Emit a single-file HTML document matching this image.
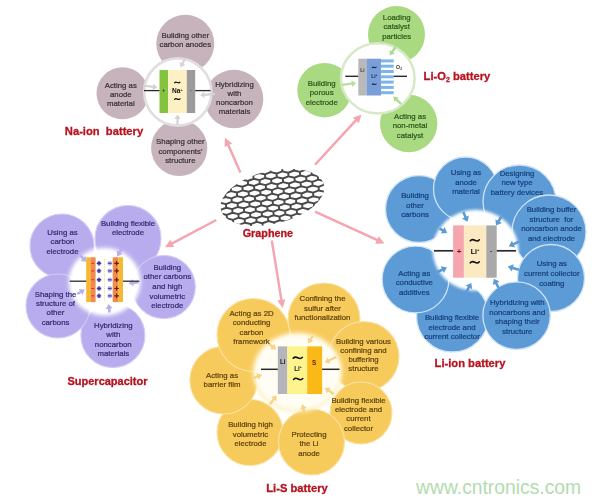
<!DOCTYPE html>
<html><head><meta charset="utf-8"><title>Graphene applications</title>
<style>
html,body{margin:0;padding:0;background:#fff;}
body{width:600px;height:503px;overflow:hidden;font-family:"Liberation Sans", sans-serif;}
svg{display:block;font-family:"Liberation Sans", sans-serif;}
</style></head><body>
<svg width="600" height="503" viewBox="0 0 600 503">
<defs>
<filter id="b1" x="-5%" y="-5%" width="110%" height="110%"><feGaussianBlur stdDeviation="0.55"/></filter>
<filter id="b15" x="-30%" y="-30%" width="160%" height="160%"><feGaussianBlur stdDeviation="1.4"/></filter>
<filter id="b2" x="-30%" y="-30%" width="160%" height="160%"><feGaussianBlur stdDeviation="2"/></filter>
<filter id="b3" x="-30%" y="-30%" width="160%" height="160%"><feGaussianBlur stdDeviation="3"/></filter>
<filter id="b5" x="-30%" y="-30%" width="160%" height="160%"><feGaussianBlur stdDeviation="4.5"/></filter>
<clipPath id="gclip"><ellipse cx="0" cy="0" rx="53" ry="26.5" transform="translate(272.4,197.3) rotate(-13.7)"/></clipPath>
</defs>
<rect width="600" height="503" fill="#ffffff"/>
<g filter="url(#b1)">

<polygon points="241.5,172.1 229.5,144.8 232.1,143.6 225.0,137.8 224.6,147.0 227.2,145.8 239.3,173.1" fill="#f4a5af" opacity="1"/>
<polygon points="315.9,165.6 356.8,121.3 358.9,123.2 361.4,114.4 352.8,117.7 354.9,119.6 314.1,164.0" fill="#f4a5af" opacity="1"/>
<polygon points="314.5,212.7 376.4,241.1 375.2,243.7 384.4,243.4 378.7,236.3 377.5,238.8 315.5,210.5" fill="#f4a5af" opacity="1"/>
<polygon points="270.6,240.7 280.2,300.1 277.3,300.6 282.7,308.0 285.4,299.3 282.6,299.7 273.0,240.3" fill="#f4a5af" opacity="1"/>
<polygon points="215.7,218.9 171.7,242.3 170.3,239.7 165.0,247.2 174.2,247.0 172.8,244.5 216.9,221.1" fill="#f4a5af" opacity="1"/>
<g clip-path="url(#gclip)">
<g transform="translate(272.4,197.3) rotate(-4)">
<path d="M-134.5 -66.6L-134.5 -63.0M-134.5 -63.0L-140.3 -61.2M-140.3 -61.2L-146.1 -63.0M-122.8 -66.6L-122.8 -63.0M-122.8 -63.0L-128.6 -61.2M-128.6 -61.2L-134.5 -63.0M-111.1 -66.6L-111.1 -63.0M-111.1 -63.0L-116.9 -61.2M-116.9 -61.2L-122.8 -63.0M-99.4 -66.6L-99.4 -63.0M-99.4 -63.0L-105.2 -61.2M-105.2 -61.2L-111.1 -63.0M-87.7 -66.6L-87.7 -63.0M-87.7 -63.0L-93.5 -61.2M-93.5 -61.2L-99.4 -63.0M-76.0 -66.6L-76.0 -63.0M-76.0 -63.0L-81.8 -61.2M-81.8 -61.2L-87.7 -63.0M-64.3 -66.6L-64.3 -63.0M-64.3 -63.0L-70.1 -61.2M-70.1 -61.2L-76.0 -63.0M-52.6 -66.6L-52.6 -63.0M-52.6 -63.0L-58.5 -61.2M-58.5 -61.2L-64.3 -63.0M-40.9 -66.6L-40.9 -63.0M-40.9 -63.0L-46.8 -61.2M-46.8 -61.2L-52.6 -63.0M-29.2 -66.6L-29.2 -63.0M-29.2 -63.0L-35.1 -61.2M-35.1 -61.2L-40.9 -63.0M-17.5 -66.6L-17.5 -63.0M-17.5 -63.0L-23.4 -61.2M-23.4 -61.2L-29.2 -63.0M-5.8 -66.6L-5.8 -63.0M-5.8 -63.0L-11.7 -61.2M-11.7 -61.2L-17.5 -63.0M5.8 -66.6L5.8 -63.0M5.8 -63.0L0.0 -61.2M0.0 -61.2L-5.8 -63.0M17.5 -66.6L17.5 -63.0M17.5 -63.0L11.7 -61.2M11.7 -61.2L5.8 -63.0M29.2 -66.6L29.2 -63.0M29.2 -63.0L23.4 -61.2M23.4 -61.2L17.5 -63.0M40.9 -66.6L40.9 -63.0M40.9 -63.0L35.1 -61.2M35.1 -61.2L29.2 -63.0M52.6 -66.6L52.6 -63.0M52.6 -63.0L46.8 -61.2M46.8 -61.2L40.9 -63.0M64.3 -66.6L64.3 -63.0M64.3 -63.0L58.5 -61.2M58.5 -61.2L52.6 -63.0M76.0 -66.6L76.0 -63.0M76.0 -63.0L70.1 -61.2M70.1 -61.2L64.3 -63.0M87.7 -66.6L87.7 -63.0M87.7 -63.0L81.8 -61.2M81.8 -61.2L76.0 -63.0M99.4 -66.6L99.4 -63.0M99.4 -63.0L93.5 -61.2M93.5 -61.2L87.7 -63.0M111.1 -66.6L111.1 -63.0M111.1 -63.0L105.2 -61.2M105.2 -61.2L99.4 -63.0M122.8 -66.6L122.8 -63.0M122.8 -63.0L116.9 -61.2M116.9 -61.2L111.1 -63.0M134.5 -66.6L134.5 -63.0M134.5 -63.0L128.6 -61.2M128.6 -61.2L122.8 -63.0M146.1 -66.6L146.1 -63.0M146.1 -63.0L140.3 -61.2M140.3 -61.2L134.5 -63.0M-128.6 -61.2L-128.6 -57.6M-128.6 -57.6L-134.5 -55.8M-134.5 -55.8L-140.3 -57.6M-116.9 -61.2L-116.9 -57.6M-116.9 -57.6L-122.8 -55.8M-122.8 -55.8L-128.6 -57.6M-105.2 -61.2L-105.2 -57.6M-105.2 -57.6L-111.1 -55.8M-111.1 -55.8L-116.9 -57.6M-93.5 -61.2L-93.5 -57.6M-93.5 -57.6L-99.4 -55.8M-99.4 -55.8L-105.2 -57.6M-81.8 -61.2L-81.8 -57.6M-81.8 -57.6L-87.7 -55.8M-87.7 -55.8L-93.5 -57.6M-70.1 -61.2L-70.1 -57.6M-70.1 -57.6L-76.0 -55.8M-76.0 -55.8L-81.8 -57.6M-58.5 -61.2L-58.5 -57.6M-58.5 -57.6L-64.3 -55.8M-64.3 -55.8L-70.1 -57.6M-46.8 -61.2L-46.8 -57.6M-46.8 -57.6L-52.6 -55.8M-52.6 -55.8L-58.5 -57.6M-35.1 -61.2L-35.1 -57.6M-35.1 -57.6L-40.9 -55.8M-40.9 -55.8L-46.8 -57.6M-23.4 -61.2L-23.4 -57.6M-23.4 -57.6L-29.2 -55.8M-29.2 -55.8L-35.1 -57.6M-11.7 -61.2L-11.7 -57.6M-11.7 -57.6L-17.5 -55.8M-17.5 -55.8L-23.4 -57.6M0.0 -61.2L0.0 -57.6M0.0 -57.6L-5.8 -55.8M-5.8 -55.8L-11.7 -57.6M11.7 -61.2L11.7 -57.6M11.7 -57.6L5.8 -55.8M5.8 -55.8L-0.0 -57.6M23.4 -61.2L23.4 -57.6M23.4 -57.6L17.5 -55.8M17.5 -55.8L11.7 -57.6M35.1 -61.2L35.1 -57.6M35.1 -57.6L29.2 -55.8M29.2 -55.8L23.4 -57.6M46.8 -61.2L46.8 -57.6M46.8 -57.6L40.9 -55.8M40.9 -55.8L35.1 -57.6M58.5 -61.2L58.5 -57.6M58.5 -57.6L52.6 -55.8M52.6 -55.8L46.8 -57.6M70.1 -61.2L70.1 -57.6M70.1 -57.6L64.3 -55.8M64.3 -55.8L58.5 -57.6M81.8 -61.2L81.8 -57.6M81.8 -57.6L76.0 -55.8M76.0 -55.8L70.1 -57.6M93.5 -61.2L93.5 -57.6M93.5 -57.6L87.7 -55.8M87.7 -55.8L81.8 -57.6M105.2 -61.2L105.2 -57.6M105.2 -57.6L99.4 -55.8M99.4 -55.8L93.5 -57.6M116.9 -61.2L116.9 -57.6M116.9 -57.6L111.1 -55.8M111.1 -55.8L105.2 -57.6M128.6 -61.2L128.6 -57.6M128.6 -57.6L122.8 -55.8M122.8 -55.8L116.9 -57.6M140.3 -61.2L140.3 -57.6M140.3 -57.6L134.5 -55.8M134.5 -55.8L128.6 -57.6M152.0 -61.2L152.0 -57.6M152.0 -57.6L146.1 -55.8M146.1 -55.8L140.3 -57.6M-134.5 -55.8L-134.5 -52.2M-134.5 -52.2L-140.3 -50.4M-140.3 -50.4L-146.1 -52.2M-122.8 -55.8L-122.8 -52.2M-122.8 -52.2L-128.6 -50.4M-128.6 -50.4L-134.5 -52.2M-111.1 -55.8L-111.1 -52.2M-111.1 -52.2L-116.9 -50.4M-116.9 -50.4L-122.8 -52.2M-99.4 -55.8L-99.4 -52.2M-99.4 -52.2L-105.2 -50.4M-105.2 -50.4L-111.1 -52.2M-87.7 -55.8L-87.7 -52.2M-87.7 -52.2L-93.5 -50.4M-93.5 -50.4L-99.4 -52.2M-76.0 -55.8L-76.0 -52.2M-76.0 -52.2L-81.8 -50.4M-81.8 -50.4L-87.7 -52.2M-64.3 -55.8L-64.3 -52.2M-64.3 -52.2L-70.1 -50.4M-70.1 -50.4L-76.0 -52.2M-52.6 -55.8L-52.6 -52.2M-52.6 -52.2L-58.5 -50.4M-58.5 -50.4L-64.3 -52.2M-40.9 -55.8L-40.9 -52.2M-40.9 -52.2L-46.8 -50.4M-46.8 -50.4L-52.6 -52.2M-29.2 -55.8L-29.2 -52.2M-29.2 -52.2L-35.1 -50.4M-35.1 -50.4L-40.9 -52.2M-17.5 -55.8L-17.5 -52.2M-17.5 -52.2L-23.4 -50.4M-23.4 -50.4L-29.2 -52.2M-5.8 -55.8L-5.8 -52.2M-5.8 -52.2L-11.7 -50.4M-11.7 -50.4L-17.5 -52.2M5.8 -55.8L5.8 -52.2M5.8 -52.2L0.0 -50.4M0.0 -50.4L-5.8 -52.2M17.5 -55.8L17.5 -52.2M17.5 -52.2L11.7 -50.4M11.7 -50.4L5.8 -52.2M29.2 -55.8L29.2 -52.2M29.2 -52.2L23.4 -50.4M23.4 -50.4L17.5 -52.2M40.9 -55.8L40.9 -52.2M40.9 -52.2L35.1 -50.4M35.1 -50.4L29.2 -52.2M52.6 -55.8L52.6 -52.2M52.6 -52.2L46.8 -50.4M46.8 -50.4L40.9 -52.2M64.3 -55.8L64.3 -52.2M64.3 -52.2L58.5 -50.4M58.5 -50.4L52.6 -52.2M76.0 -55.8L76.0 -52.2M76.0 -52.2L70.1 -50.4M70.1 -50.4L64.3 -52.2M87.7 -55.8L87.7 -52.2M87.7 -52.2L81.8 -50.4M81.8 -50.4L76.0 -52.2M99.4 -55.8L99.4 -52.2M99.4 -52.2L93.5 -50.4M93.5 -50.4L87.7 -52.2M111.1 -55.8L111.1 -52.2M111.1 -52.2L105.2 -50.4M105.2 -50.4L99.4 -52.2M122.8 -55.8L122.8 -52.2M122.8 -52.2L116.9 -50.4M116.9 -50.4L111.1 -52.2M134.5 -55.8L134.5 -52.2M134.5 -52.2L128.6 -50.4M128.6 -50.4L122.8 -52.2M146.1 -55.8L146.1 -52.2M146.1 -52.2L140.3 -50.4M140.3 -50.4L134.5 -52.2M-128.6 -50.4L-128.6 -46.8M-128.6 -46.8L-134.5 -45.0M-134.5 -45.0L-140.3 -46.8M-116.9 -50.4L-116.9 -46.8M-116.9 -46.8L-122.8 -45.0M-122.8 -45.0L-128.6 -46.8M-105.2 -50.4L-105.2 -46.8M-105.2 -46.8L-111.1 -45.0M-111.1 -45.0L-116.9 -46.8M-93.5 -50.4L-93.5 -46.8M-93.5 -46.8L-99.4 -45.0M-99.4 -45.0L-105.2 -46.8M-81.8 -50.4L-81.8 -46.8M-81.8 -46.8L-87.7 -45.0M-87.7 -45.0L-93.5 -46.8M-70.1 -50.4L-70.1 -46.8M-70.1 -46.8L-76.0 -45.0M-76.0 -45.0L-81.8 -46.8M-58.5 -50.4L-58.5 -46.8M-58.5 -46.8L-64.3 -45.0M-64.3 -45.0L-70.1 -46.8M-46.8 -50.4L-46.8 -46.8M-46.8 -46.8L-52.6 -45.0M-52.6 -45.0L-58.5 -46.8M-35.1 -50.4L-35.1 -46.8M-35.1 -46.8L-40.9 -45.0M-40.9 -45.0L-46.8 -46.8M-23.4 -50.4L-23.4 -46.8M-23.4 -46.8L-29.2 -45.0M-29.2 -45.0L-35.1 -46.8M-11.7 -50.4L-11.7 -46.8M-11.7 -46.8L-17.5 -45.0M-17.5 -45.0L-23.4 -46.8M0.0 -50.4L0.0 -46.8M0.0 -46.8L-5.8 -45.0M-5.8 -45.0L-11.7 -46.8M11.7 -50.4L11.7 -46.8M11.7 -46.8L5.8 -45.0M5.8 -45.0L-0.0 -46.8M23.4 -50.4L23.4 -46.8M23.4 -46.8L17.5 -45.0M17.5 -45.0L11.7 -46.8M35.1 -50.4L35.1 -46.8M35.1 -46.8L29.2 -45.0M29.2 -45.0L23.4 -46.8M46.8 -50.4L46.8 -46.8M46.8 -46.8L40.9 -45.0M40.9 -45.0L35.1 -46.8M58.5 -50.4L58.5 -46.8M58.5 -46.8L52.6 -45.0M52.6 -45.0L46.8 -46.8M70.1 -50.4L70.1 -46.8M70.1 -46.8L64.3 -45.0M64.3 -45.0L58.5 -46.8M81.8 -50.4L81.8 -46.8M81.8 -46.8L76.0 -45.0M76.0 -45.0L70.1 -46.8M93.5 -50.4L93.5 -46.8M93.5 -46.8L87.7 -45.0M87.7 -45.0L81.8 -46.8M105.2 -50.4L105.2 -46.8M105.2 -46.8L99.4 -45.0M99.4 -45.0L93.5 -46.8M116.9 -50.4L116.9 -46.8M116.9 -46.8L111.1 -45.0M111.1 -45.0L105.2 -46.8M128.6 -50.4L128.6 -46.8M128.6 -46.8L122.8 -45.0M122.8 -45.0L116.9 -46.8M140.3 -50.4L140.3 -46.8M140.3 -46.8L134.5 -45.0M134.5 -45.0L128.6 -46.8M152.0 -50.4L152.0 -46.8M152.0 -46.8L146.1 -45.0M146.1 -45.0L140.3 -46.8M-134.5 -45.0L-134.5 -41.4M-134.5 -41.4L-140.3 -39.6M-140.3 -39.6L-146.1 -41.4M-122.8 -45.0L-122.8 -41.4M-122.8 -41.4L-128.6 -39.6M-128.6 -39.6L-134.5 -41.4M-111.1 -45.0L-111.1 -41.4M-111.1 -41.4L-116.9 -39.6M-116.9 -39.6L-122.8 -41.4M-99.4 -45.0L-99.4 -41.4M-99.4 -41.4L-105.2 -39.6M-105.2 -39.6L-111.1 -41.4M-87.7 -45.0L-87.7 -41.4M-87.7 -41.4L-93.5 -39.6M-93.5 -39.6L-99.4 -41.4M-76.0 -45.0L-76.0 -41.4M-76.0 -41.4L-81.8 -39.6M-81.8 -39.6L-87.7 -41.4M-64.3 -45.0L-64.3 -41.4M-64.3 -41.4L-70.1 -39.6M-70.1 -39.6L-76.0 -41.4M-52.6 -45.0L-52.6 -41.4M-52.6 -41.4L-58.5 -39.6M-58.5 -39.6L-64.3 -41.4M-40.9 -45.0L-40.9 -41.4M-40.9 -41.4L-46.8 -39.6M-46.8 -39.6L-52.6 -41.4M-29.2 -45.0L-29.2 -41.4M-29.2 -41.4L-35.1 -39.6M-35.1 -39.6L-40.9 -41.4M-17.5 -45.0L-17.5 -41.4M-17.5 -41.4L-23.4 -39.6M-23.4 -39.6L-29.2 -41.4M-5.8 -45.0L-5.8 -41.4M-5.8 -41.4L-11.7 -39.6M-11.7 -39.6L-17.5 -41.4M5.8 -45.0L5.8 -41.4M5.8 -41.4L0.0 -39.6M0.0 -39.6L-5.8 -41.4M17.5 -45.0L17.5 -41.4M17.5 -41.4L11.7 -39.6M11.7 -39.6L5.8 -41.4M29.2 -45.0L29.2 -41.4M29.2 -41.4L23.4 -39.6M23.4 -39.6L17.5 -41.4M40.9 -45.0L40.9 -41.4M40.9 -41.4L35.1 -39.6M35.1 -39.6L29.2 -41.4M52.6 -45.0L52.6 -41.4M52.6 -41.4L46.8 -39.6M46.8 -39.6L40.9 -41.4M64.3 -45.0L64.3 -41.4M64.3 -41.4L58.5 -39.6M58.5 -39.6L52.6 -41.4M76.0 -45.0L76.0 -41.4M76.0 -41.4L70.1 -39.6M70.1 -39.6L64.3 -41.4M87.7 -45.0L87.7 -41.4M87.7 -41.4L81.8 -39.6M81.8 -39.6L76.0 -41.4M99.4 -45.0L99.4 -41.4M99.4 -41.4L93.5 -39.6M93.5 -39.6L87.7 -41.4M111.1 -45.0L111.1 -41.4M111.1 -41.4L105.2 -39.6M105.2 -39.6L99.4 -41.4M122.8 -45.0L122.8 -41.4M122.8 -41.4L116.9 -39.6M116.9 -39.6L111.1 -41.4M134.5 -45.0L134.5 -41.4M134.5 -41.4L128.6 -39.6M128.6 -39.6L122.8 -41.4M146.1 -45.0L146.1 -41.4M146.1 -41.4L140.3 -39.6M140.3 -39.6L134.5 -41.4M-128.6 -39.6L-128.6 -36.0M-128.6 -36.0L-134.5 -34.2M-134.5 -34.2L-140.3 -36.0M-116.9 -39.6L-116.9 -36.0M-116.9 -36.0L-122.8 -34.2M-122.8 -34.2L-128.6 -36.0M-105.2 -39.6L-105.2 -36.0M-105.2 -36.0L-111.1 -34.2M-111.1 -34.2L-116.9 -36.0M-93.5 -39.6L-93.5 -36.0M-93.5 -36.0L-99.4 -34.2M-99.4 -34.2L-105.2 -36.0M-81.8 -39.6L-81.8 -36.0M-81.8 -36.0L-87.7 -34.2M-87.7 -34.2L-93.5 -36.0M-70.1 -39.6L-70.1 -36.0M-70.1 -36.0L-76.0 -34.2M-76.0 -34.2L-81.8 -36.0M-58.5 -39.6L-58.5 -36.0M-58.5 -36.0L-64.3 -34.2M-64.3 -34.2L-70.1 -36.0M-46.8 -39.6L-46.8 -36.0M-46.8 -36.0L-52.6 -34.2M-52.6 -34.2L-58.5 -36.0M-35.1 -39.6L-35.1 -36.0M-35.1 -36.0L-40.9 -34.2M-40.9 -34.2L-46.8 -36.0M-23.4 -39.6L-23.4 -36.0M-23.4 -36.0L-29.2 -34.2M-29.2 -34.2L-35.1 -36.0M-11.7 -39.6L-11.7 -36.0M-11.7 -36.0L-17.5 -34.2M-17.5 -34.2L-23.4 -36.0M0.0 -39.6L0.0 -36.0M0.0 -36.0L-5.8 -34.2M-5.8 -34.2L-11.7 -36.0M11.7 -39.6L11.7 -36.0M11.7 -36.0L5.8 -34.2M5.8 -34.2L-0.0 -36.0M23.4 -39.6L23.4 -36.0M23.4 -36.0L17.5 -34.2M17.5 -34.2L11.7 -36.0M35.1 -39.6L35.1 -36.0M35.1 -36.0L29.2 -34.2M29.2 -34.2L23.4 -36.0M46.8 -39.6L46.8 -36.0M46.8 -36.0L40.9 -34.2M40.9 -34.2L35.1 -36.0M58.5 -39.6L58.5 -36.0M58.5 -36.0L52.6 -34.2M52.6 -34.2L46.8 -36.0M70.1 -39.6L70.1 -36.0M70.1 -36.0L64.3 -34.2M64.3 -34.2L58.5 -36.0M81.8 -39.6L81.8 -36.0M81.8 -36.0L76.0 -34.2M76.0 -34.2L70.1 -36.0M93.5 -39.6L93.5 -36.0M93.5 -36.0L87.7 -34.2M87.7 -34.2L81.8 -36.0M105.2 -39.6L105.2 -36.0M105.2 -36.0L99.4 -34.2M99.4 -34.2L93.5 -36.0M116.9 -39.6L116.9 -36.0M116.9 -36.0L111.1 -34.2M111.1 -34.2L105.2 -36.0M128.6 -39.6L128.6 -36.0M128.6 -36.0L122.8 -34.2M122.8 -34.2L116.9 -36.0M140.3 -39.6L140.3 -36.0M140.3 -36.0L134.5 -34.2M134.5 -34.2L128.6 -36.0M152.0 -39.6L152.0 -36.0M152.0 -36.0L146.1 -34.2M146.1 -34.2L140.3 -36.0M-134.5 -34.2L-134.5 -30.6M-134.5 -30.6L-140.3 -28.8M-140.3 -28.8L-146.1 -30.6M-122.8 -34.2L-122.8 -30.6M-122.8 -30.6L-128.6 -28.8M-128.6 -28.8L-134.5 -30.6M-111.1 -34.2L-111.1 -30.6M-111.1 -30.6L-116.9 -28.8M-116.9 -28.8L-122.8 -30.6M-99.4 -34.2L-99.4 -30.6M-99.4 -30.6L-105.2 -28.8M-105.2 -28.8L-111.1 -30.6M-87.7 -34.2L-87.7 -30.6M-87.7 -30.6L-93.5 -28.8M-93.5 -28.8L-99.4 -30.6M-76.0 -34.2L-76.0 -30.6M-76.0 -30.6L-81.8 -28.8M-81.8 -28.8L-87.7 -30.6M-64.3 -34.2L-64.3 -30.6M-64.3 -30.6L-70.1 -28.8M-70.1 -28.8L-76.0 -30.6M-52.6 -34.2L-52.6 -30.6M-52.6 -30.6L-58.5 -28.8M-58.5 -28.8L-64.3 -30.6M-40.9 -34.2L-40.9 -30.6M-40.9 -30.6L-46.8 -28.8M-46.8 -28.8L-52.6 -30.6M-29.2 -34.2L-29.2 -30.6M-29.2 -30.6L-35.1 -28.8M-35.1 -28.8L-40.9 -30.6M-17.5 -34.2L-17.5 -30.6M-17.5 -30.6L-23.4 -28.8M-23.4 -28.8L-29.2 -30.6M-5.8 -34.2L-5.8 -30.6M-5.8 -30.6L-11.7 -28.8M-11.7 -28.8L-17.5 -30.6M5.8 -34.2L5.8 -30.6M5.8 -30.6L0.0 -28.8M0.0 -28.8L-5.8 -30.6M17.5 -34.2L17.5 -30.6M17.5 -30.6L11.7 -28.8M11.7 -28.8L5.8 -30.6M29.2 -34.2L29.2 -30.6M29.2 -30.6L23.4 -28.8M23.4 -28.8L17.5 -30.6M40.9 -34.2L40.9 -30.6M40.9 -30.6L35.1 -28.8M35.1 -28.8L29.2 -30.6M52.6 -34.2L52.6 -30.6M52.6 -30.6L46.8 -28.8M46.8 -28.8L40.9 -30.6M64.3 -34.2L64.3 -30.6M64.3 -30.6L58.5 -28.8M58.5 -28.8L52.6 -30.6M76.0 -34.2L76.0 -30.6M76.0 -30.6L70.1 -28.8M70.1 -28.8L64.3 -30.6M87.7 -34.2L87.7 -30.6M87.7 -30.6L81.8 -28.8M81.8 -28.8L76.0 -30.6M99.4 -34.2L99.4 -30.6M99.4 -30.6L93.5 -28.8M93.5 -28.8L87.7 -30.6M111.1 -34.2L111.1 -30.6M111.1 -30.6L105.2 -28.8M105.2 -28.8L99.4 -30.6M122.8 -34.2L122.8 -30.6M122.8 -30.6L116.9 -28.8M116.9 -28.8L111.1 -30.6M134.5 -34.2L134.5 -30.6M134.5 -30.6L128.6 -28.8M128.6 -28.8L122.8 -30.6M146.1 -34.2L146.1 -30.6M146.1 -30.6L140.3 -28.8M140.3 -28.8L134.5 -30.6M-128.6 -28.8L-128.6 -25.2M-128.6 -25.2L-134.5 -23.4M-134.5 -23.4L-140.3 -25.2M-116.9 -28.8L-116.9 -25.2M-116.9 -25.2L-122.8 -23.4M-122.8 -23.4L-128.6 -25.2M-105.2 -28.8L-105.2 -25.2M-105.2 -25.2L-111.1 -23.4M-111.1 -23.4L-116.9 -25.2M-93.5 -28.8L-93.5 -25.2M-93.5 -25.2L-99.4 -23.4M-99.4 -23.4L-105.2 -25.2M-81.8 -28.8L-81.8 -25.2M-81.8 -25.2L-87.7 -23.4M-87.7 -23.4L-93.5 -25.2M-70.1 -28.8L-70.1 -25.2M-70.1 -25.2L-76.0 -23.4M-76.0 -23.4L-81.8 -25.2M-58.5 -28.8L-58.5 -25.2M-58.5 -25.2L-64.3 -23.4M-64.3 -23.4L-70.1 -25.2M-46.8 -28.8L-46.8 -25.2M-46.8 -25.2L-52.6 -23.4M-52.6 -23.4L-58.5 -25.2M-35.1 -28.8L-35.1 -25.2M-35.1 -25.2L-40.9 -23.4M-40.9 -23.4L-46.8 -25.2M-23.4 -28.8L-23.4 -25.2M-23.4 -25.2L-29.2 -23.4M-29.2 -23.4L-35.1 -25.2M-11.7 -28.8L-11.7 -25.2M-11.7 -25.2L-17.5 -23.4M-17.5 -23.4L-23.4 -25.2M0.0 -28.8L0.0 -25.2M0.0 -25.2L-5.8 -23.4M-5.8 -23.4L-11.7 -25.2M11.7 -28.8L11.7 -25.2M11.7 -25.2L5.8 -23.4M5.8 -23.4L-0.0 -25.2M23.4 -28.8L23.4 -25.2M23.4 -25.2L17.5 -23.4M17.5 -23.4L11.7 -25.2M35.1 -28.8L35.1 -25.2M35.1 -25.2L29.2 -23.4M29.2 -23.4L23.4 -25.2M46.8 -28.8L46.8 -25.2M46.8 -25.2L40.9 -23.4M40.9 -23.4L35.1 -25.2M58.5 -28.8L58.5 -25.2M58.5 -25.2L52.6 -23.4M52.6 -23.4L46.8 -25.2M70.1 -28.8L70.1 -25.2M70.1 -25.2L64.3 -23.4M64.3 -23.4L58.5 -25.2M81.8 -28.8L81.8 -25.2M81.8 -25.2L76.0 -23.4M76.0 -23.4L70.1 -25.2M93.5 -28.8L93.5 -25.2M93.5 -25.2L87.7 -23.4M87.7 -23.4L81.8 -25.2M105.2 -28.8L105.2 -25.2M105.2 -25.2L99.4 -23.4M99.4 -23.4L93.5 -25.2M116.9 -28.8L116.9 -25.2M116.9 -25.2L111.1 -23.4M111.1 -23.4L105.2 -25.2M128.6 -28.8L128.6 -25.2M128.6 -25.2L122.8 -23.4M122.8 -23.4L116.9 -25.2M140.3 -28.8L140.3 -25.2M140.3 -25.2L134.5 -23.4M134.5 -23.4L128.6 -25.2M152.0 -28.8L152.0 -25.2M152.0 -25.2L146.1 -23.4M146.1 -23.4L140.3 -25.2M-134.5 -23.4L-134.5 -19.8M-134.5 -19.8L-140.3 -18.0M-140.3 -18.0L-146.1 -19.8M-122.8 -23.4L-122.8 -19.8M-122.8 -19.8L-128.6 -18.0M-128.6 -18.0L-134.5 -19.8M-111.1 -23.4L-111.1 -19.8M-111.1 -19.8L-116.9 -18.0M-116.9 -18.0L-122.8 -19.8M-99.4 -23.4L-99.4 -19.8M-99.4 -19.8L-105.2 -18.0M-105.2 -18.0L-111.1 -19.8M-87.7 -23.4L-87.7 -19.8M-87.7 -19.8L-93.5 -18.0M-93.5 -18.0L-99.4 -19.8M-76.0 -23.4L-76.0 -19.8M-76.0 -19.8L-81.8 -18.0M-81.8 -18.0L-87.7 -19.8M-64.3 -23.4L-64.3 -19.8M-64.3 -19.8L-70.1 -18.0M-70.1 -18.0L-76.0 -19.8M-52.6 -23.4L-52.6 -19.8M-52.6 -19.8L-58.5 -18.0M-58.5 -18.0L-64.3 -19.8M-40.9 -23.4L-40.9 -19.8M-40.9 -19.8L-46.8 -18.0M-46.8 -18.0L-52.6 -19.8M-29.2 -23.4L-29.2 -19.8M-29.2 -19.8L-35.1 -18.0M-35.1 -18.0L-40.9 -19.8M-17.5 -23.4L-17.5 -19.8M-17.5 -19.8L-23.4 -18.0M-23.4 -18.0L-29.2 -19.8M-5.8 -23.4L-5.8 -19.8M-5.8 -19.8L-11.7 -18.0M-11.7 -18.0L-17.5 -19.8M5.8 -23.4L5.8 -19.8M5.8 -19.8L0.0 -18.0M0.0 -18.0L-5.8 -19.8M17.5 -23.4L17.5 -19.8M17.5 -19.8L11.7 -18.0M11.7 -18.0L5.8 -19.8M29.2 -23.4L29.2 -19.8M29.2 -19.8L23.4 -18.0M23.4 -18.0L17.5 -19.8M40.9 -23.4L40.9 -19.8M40.9 -19.8L35.1 -18.0M35.1 -18.0L29.2 -19.8M52.6 -23.4L52.6 -19.8M52.6 -19.8L46.8 -18.0M46.8 -18.0L40.9 -19.8M64.3 -23.4L64.3 -19.8M64.3 -19.8L58.5 -18.0M58.5 -18.0L52.6 -19.8M76.0 -23.4L76.0 -19.8M76.0 -19.8L70.1 -18.0M70.1 -18.0L64.3 -19.8M87.7 -23.4L87.7 -19.8M87.7 -19.8L81.8 -18.0M81.8 -18.0L76.0 -19.8M99.4 -23.4L99.4 -19.8M99.4 -19.8L93.5 -18.0M93.5 -18.0L87.7 -19.8M111.1 -23.4L111.1 -19.8M111.1 -19.8L105.2 -18.0M105.2 -18.0L99.4 -19.8M122.8 -23.4L122.8 -19.8M122.8 -19.8L116.9 -18.0M116.9 -18.0L111.1 -19.8M134.5 -23.4L134.5 -19.8M134.5 -19.8L128.6 -18.0M128.6 -18.0L122.8 -19.8M146.1 -23.4L146.1 -19.8M146.1 -19.8L140.3 -18.0M140.3 -18.0L134.5 -19.8M-128.6 -18.0L-128.6 -14.4M-128.6 -14.4L-134.5 -12.6M-134.5 -12.6L-140.3 -14.4M-116.9 -18.0L-116.9 -14.4M-116.9 -14.4L-122.8 -12.6M-122.8 -12.6L-128.6 -14.4M-105.2 -18.0L-105.2 -14.4M-105.2 -14.4L-111.1 -12.6M-111.1 -12.6L-116.9 -14.4M-93.5 -18.0L-93.5 -14.4M-93.5 -14.4L-99.4 -12.6M-99.4 -12.6L-105.2 -14.4M-81.8 -18.0L-81.8 -14.4M-81.8 -14.4L-87.7 -12.6M-87.7 -12.6L-93.5 -14.4M-70.1 -18.0L-70.1 -14.4M-70.1 -14.4L-76.0 -12.6M-76.0 -12.6L-81.8 -14.4M-58.5 -18.0L-58.5 -14.4M-58.5 -14.4L-64.3 -12.6M-64.3 -12.6L-70.1 -14.4M-46.8 -18.0L-46.8 -14.4M-46.8 -14.4L-52.6 -12.6M-52.6 -12.6L-58.5 -14.4M-35.1 -18.0L-35.1 -14.4M-35.1 -14.4L-40.9 -12.6M-40.9 -12.6L-46.8 -14.4M-23.4 -18.0L-23.4 -14.4M-23.4 -14.4L-29.2 -12.6M-29.2 -12.6L-35.1 -14.4M-11.7 -18.0L-11.7 -14.4M-11.7 -14.4L-17.5 -12.6M-17.5 -12.6L-23.4 -14.4M0.0 -18.0L0.0 -14.4M0.0 -14.4L-5.8 -12.6M-5.8 -12.6L-11.7 -14.4M11.7 -18.0L11.7 -14.4M11.7 -14.4L5.8 -12.6M5.8 -12.6L-0.0 -14.4M23.4 -18.0L23.4 -14.4M23.4 -14.4L17.5 -12.6M17.5 -12.6L11.7 -14.4M35.1 -18.0L35.1 -14.4M35.1 -14.4L29.2 -12.6M29.2 -12.6L23.4 -14.4M46.8 -18.0L46.8 -14.4M46.8 -14.4L40.9 -12.6M40.9 -12.6L35.1 -14.4M58.5 -18.0L58.5 -14.4M58.5 -14.4L52.6 -12.6M52.6 -12.6L46.8 -14.4M70.1 -18.0L70.1 -14.4M70.1 -14.4L64.3 -12.6M64.3 -12.6L58.5 -14.4M81.8 -18.0L81.8 -14.4M81.8 -14.4L76.0 -12.6M76.0 -12.6L70.1 -14.4M93.5 -18.0L93.5 -14.4M93.5 -14.4L87.7 -12.6M87.7 -12.6L81.8 -14.4M105.2 -18.0L105.2 -14.4M105.2 -14.4L99.4 -12.6M99.4 -12.6L93.5 -14.4M116.9 -18.0L116.9 -14.4M116.9 -14.4L111.1 -12.6M111.1 -12.6L105.2 -14.4M128.6 -18.0L128.6 -14.4M128.6 -14.4L122.8 -12.6M122.8 -12.6L116.9 -14.4M140.3 -18.0L140.3 -14.4M140.3 -14.4L134.5 -12.6M134.5 -12.6L128.6 -14.4M152.0 -18.0L152.0 -14.4M152.0 -14.4L146.1 -12.6M146.1 -12.6L140.3 -14.4M-134.5 -12.6L-134.5 -9.0M-134.5 -9.0L-140.3 -7.2M-140.3 -7.2L-146.1 -9.0M-122.8 -12.6L-122.8 -9.0M-122.8 -9.0L-128.6 -7.2M-128.6 -7.2L-134.5 -9.0M-111.1 -12.6L-111.1 -9.0M-111.1 -9.0L-116.9 -7.2M-116.9 -7.2L-122.8 -9.0M-99.4 -12.6L-99.4 -9.0M-99.4 -9.0L-105.2 -7.2M-105.2 -7.2L-111.1 -9.0M-87.7 -12.6L-87.7 -9.0M-87.7 -9.0L-93.5 -7.2M-93.5 -7.2L-99.4 -9.0M-76.0 -12.6L-76.0 -9.0M-76.0 -9.0L-81.8 -7.2M-81.8 -7.2L-87.7 -9.0M-64.3 -12.6L-64.3 -9.0M-64.3 -9.0L-70.1 -7.2M-70.1 -7.2L-76.0 -9.0M-52.6 -12.6L-52.6 -9.0M-52.6 -9.0L-58.5 -7.2M-58.5 -7.2L-64.3 -9.0M-40.9 -12.6L-40.9 -9.0M-40.9 -9.0L-46.8 -7.2M-46.8 -7.2L-52.6 -9.0M-29.2 -12.6L-29.2 -9.0M-29.2 -9.0L-35.1 -7.2M-35.1 -7.2L-40.9 -9.0M-17.5 -12.6L-17.5 -9.0M-17.5 -9.0L-23.4 -7.2M-23.4 -7.2L-29.2 -9.0M-5.8 -12.6L-5.8 -9.0M-5.8 -9.0L-11.7 -7.2M-11.7 -7.2L-17.5 -9.0M5.8 -12.6L5.8 -9.0M5.8 -9.0L0.0 -7.2M0.0 -7.2L-5.8 -9.0M17.5 -12.6L17.5 -9.0M17.5 -9.0L11.7 -7.2M11.7 -7.2L5.8 -9.0M29.2 -12.6L29.2 -9.0M29.2 -9.0L23.4 -7.2M23.4 -7.2L17.5 -9.0M40.9 -12.6L40.9 -9.0M40.9 -9.0L35.1 -7.2M35.1 -7.2L29.2 -9.0M52.6 -12.6L52.6 -9.0M52.6 -9.0L46.8 -7.2M46.8 -7.2L40.9 -9.0M64.3 -12.6L64.3 -9.0M64.3 -9.0L58.5 -7.2M58.5 -7.2L52.6 -9.0M76.0 -12.6L76.0 -9.0M76.0 -9.0L70.1 -7.2M70.1 -7.2L64.3 -9.0M87.7 -12.6L87.7 -9.0M87.7 -9.0L81.8 -7.2M81.8 -7.2L76.0 -9.0M99.4 -12.6L99.4 -9.0M99.4 -9.0L93.5 -7.2M93.5 -7.2L87.7 -9.0M111.1 -12.6L111.1 -9.0M111.1 -9.0L105.2 -7.2M105.2 -7.2L99.4 -9.0M122.8 -12.6L122.8 -9.0M122.8 -9.0L116.9 -7.2M116.9 -7.2L111.1 -9.0M134.5 -12.6L134.5 -9.0M134.5 -9.0L128.6 -7.2M128.6 -7.2L122.8 -9.0M146.1 -12.6L146.1 -9.0M146.1 -9.0L140.3 -7.2M140.3 -7.2L134.5 -9.0M-128.6 -7.2L-128.6 -3.6M-128.6 -3.6L-134.5 -1.8M-134.5 -1.8L-140.3 -3.6M-116.9 -7.2L-116.9 -3.6M-116.9 -3.6L-122.8 -1.8M-122.8 -1.8L-128.6 -3.6M-105.2 -7.2L-105.2 -3.6M-105.2 -3.6L-111.1 -1.8M-111.1 -1.8L-116.9 -3.6M-93.5 -7.2L-93.5 -3.6M-93.5 -3.6L-99.4 -1.8M-99.4 -1.8L-105.2 -3.6M-81.8 -7.2L-81.8 -3.6M-81.8 -3.6L-87.7 -1.8M-87.7 -1.8L-93.5 -3.6M-70.1 -7.2L-70.1 -3.6M-70.1 -3.6L-76.0 -1.8M-76.0 -1.8L-81.8 -3.6M-58.5 -7.2L-58.5 -3.6M-58.5 -3.6L-64.3 -1.8M-64.3 -1.8L-70.1 -3.6M-46.8 -7.2L-46.8 -3.6M-46.8 -3.6L-52.6 -1.8M-52.6 -1.8L-58.5 -3.6M-35.1 -7.2L-35.1 -3.6M-35.1 -3.6L-40.9 -1.8M-40.9 -1.8L-46.8 -3.6M-23.4 -7.2L-23.4 -3.6M-23.4 -3.6L-29.2 -1.8M-29.2 -1.8L-35.1 -3.6M-11.7 -7.2L-11.7 -3.6M-11.7 -3.6L-17.5 -1.8M-17.5 -1.8L-23.4 -3.6M0.0 -7.2L0.0 -3.6M0.0 -3.6L-5.8 -1.8M-5.8 -1.8L-11.7 -3.6M11.7 -7.2L11.7 -3.6M11.7 -3.6L5.8 -1.8M5.8 -1.8L-0.0 -3.6M23.4 -7.2L23.4 -3.6M23.4 -3.6L17.5 -1.8M17.5 -1.8L11.7 -3.6M35.1 -7.2L35.1 -3.6M35.1 -3.6L29.2 -1.8M29.2 -1.8L23.4 -3.6M46.8 -7.2L46.8 -3.6M46.8 -3.6L40.9 -1.8M40.9 -1.8L35.1 -3.6M58.5 -7.2L58.5 -3.6M58.5 -3.6L52.6 -1.8M52.6 -1.8L46.8 -3.6M70.1 -7.2L70.1 -3.6M70.1 -3.6L64.3 -1.8M64.3 -1.8L58.5 -3.6M81.8 -7.2L81.8 -3.6M81.8 -3.6L76.0 -1.8M76.0 -1.8L70.1 -3.6M93.5 -7.2L93.5 -3.6M93.5 -3.6L87.7 -1.8M87.7 -1.8L81.8 -3.6M105.2 -7.2L105.2 -3.6M105.2 -3.6L99.4 -1.8M99.4 -1.8L93.5 -3.6M116.9 -7.2L116.9 -3.6M116.9 -3.6L111.1 -1.8M111.1 -1.8L105.2 -3.6M128.6 -7.2L128.6 -3.6M128.6 -3.6L122.8 -1.8M122.8 -1.8L116.9 -3.6M140.3 -7.2L140.3 -3.6M140.3 -3.6L134.5 -1.8M134.5 -1.8L128.6 -3.6M152.0 -7.2L152.0 -3.6M152.0 -3.6L146.1 -1.8M146.1 -1.8L140.3 -3.6M-134.5 -1.8L-134.5 1.8M-134.5 1.8L-140.3 3.6M-140.3 3.6L-146.1 1.8M-122.8 -1.8L-122.8 1.8M-122.8 1.8L-128.6 3.6M-128.6 3.6L-134.5 1.8M-111.1 -1.8L-111.1 1.8M-111.1 1.8L-116.9 3.6M-116.9 3.6L-122.8 1.8M-99.4 -1.8L-99.4 1.8M-99.4 1.8L-105.2 3.6M-105.2 3.6L-111.1 1.8M-87.7 -1.8L-87.7 1.8M-87.7 1.8L-93.5 3.6M-93.5 3.6L-99.4 1.8M-76.0 -1.8L-76.0 1.8M-76.0 1.8L-81.8 3.6M-81.8 3.6L-87.7 1.8M-64.3 -1.8L-64.3 1.8M-64.3 1.8L-70.1 3.6M-70.1 3.6L-76.0 1.8M-52.6 -1.8L-52.6 1.8M-52.6 1.8L-58.5 3.6M-58.5 3.6L-64.3 1.8M-40.9 -1.8L-40.9 1.8M-40.9 1.8L-46.8 3.6M-46.8 3.6L-52.6 1.8M-29.2 -1.8L-29.2 1.8M-29.2 1.8L-35.1 3.6M-35.1 3.6L-40.9 1.8M-17.5 -1.8L-17.5 1.8M-17.5 1.8L-23.4 3.6M-23.4 3.6L-29.2 1.8M-5.8 -1.8L-5.8 1.8M-5.8 1.8L-11.7 3.6M-11.7 3.6L-17.5 1.8M5.8 -1.8L5.8 1.8M5.8 1.8L0.0 3.6M0.0 3.6L-5.8 1.8M17.5 -1.8L17.5 1.8M17.5 1.8L11.7 3.6M11.7 3.6L5.8 1.8M29.2 -1.8L29.2 1.8M29.2 1.8L23.4 3.6M23.4 3.6L17.5 1.8M40.9 -1.8L40.9 1.8M40.9 1.8L35.1 3.6M35.1 3.6L29.2 1.8M52.6 -1.8L52.6 1.8M52.6 1.8L46.8 3.6M46.8 3.6L40.9 1.8M64.3 -1.8L64.3 1.8M64.3 1.8L58.5 3.6M58.5 3.6L52.6 1.8M76.0 -1.8L76.0 1.8M76.0 1.8L70.1 3.6M70.1 3.6L64.3 1.8M87.7 -1.8L87.7 1.8M87.7 1.8L81.8 3.6M81.8 3.6L76.0 1.8M99.4 -1.8L99.4 1.8M99.4 1.8L93.5 3.6M93.5 3.6L87.7 1.8M111.1 -1.8L111.1 1.8M111.1 1.8L105.2 3.6M105.2 3.6L99.4 1.8M122.8 -1.8L122.8 1.8M122.8 1.8L116.9 3.6M116.9 3.6L111.1 1.8M134.5 -1.8L134.5 1.8M134.5 1.8L128.6 3.6M128.6 3.6L122.8 1.8M146.1 -1.8L146.1 1.8M146.1 1.8L140.3 3.6M140.3 3.6L134.5 1.8M-128.6 3.6L-128.6 7.2M-128.6 7.2L-134.5 9.0M-134.5 9.0L-140.3 7.2M-116.9 3.6L-116.9 7.2M-116.9 7.2L-122.8 9.0M-122.8 9.0L-128.6 7.2M-105.2 3.6L-105.2 7.2M-105.2 7.2L-111.1 9.0M-111.1 9.0L-116.9 7.2M-93.5 3.6L-93.5 7.2M-93.5 7.2L-99.4 9.0M-99.4 9.0L-105.2 7.2M-81.8 3.6L-81.8 7.2M-81.8 7.2L-87.7 9.0M-87.7 9.0L-93.5 7.2M-70.1 3.6L-70.1 7.2M-70.1 7.2L-76.0 9.0M-76.0 9.0L-81.8 7.2M-58.5 3.6L-58.5 7.2M-58.5 7.2L-64.3 9.0M-64.3 9.0L-70.1 7.2M-46.8 3.6L-46.8 7.2M-46.8 7.2L-52.6 9.0M-52.6 9.0L-58.5 7.2M-35.1 3.6L-35.1 7.2M-35.1 7.2L-40.9 9.0M-40.9 9.0L-46.8 7.2M-23.4 3.6L-23.4 7.2M-23.4 7.2L-29.2 9.0M-29.2 9.0L-35.1 7.2M-11.7 3.6L-11.7 7.2M-11.7 7.2L-17.5 9.0M-17.5 9.0L-23.4 7.2M0.0 3.6L0.0 7.2M0.0 7.2L-5.8 9.0M-5.8 9.0L-11.7 7.2M11.7 3.6L11.7 7.2M11.7 7.2L5.8 9.0M5.8 9.0L-0.0 7.2M23.4 3.6L23.4 7.2M23.4 7.2L17.5 9.0M17.5 9.0L11.7 7.2M35.1 3.6L35.1 7.2M35.1 7.2L29.2 9.0M29.2 9.0L23.4 7.2M46.8 3.6L46.8 7.2M46.8 7.2L40.9 9.0M40.9 9.0L35.1 7.2M58.5 3.6L58.5 7.2M58.5 7.2L52.6 9.0M52.6 9.0L46.8 7.2M70.1 3.6L70.1 7.2M70.1 7.2L64.3 9.0M64.3 9.0L58.5 7.2M81.8 3.6L81.8 7.2M81.8 7.2L76.0 9.0M76.0 9.0L70.1 7.2M93.5 3.6L93.5 7.2M93.5 7.2L87.7 9.0M87.7 9.0L81.8 7.2M105.2 3.6L105.2 7.2M105.2 7.2L99.4 9.0M99.4 9.0L93.5 7.2M116.9 3.6L116.9 7.2M116.9 7.2L111.1 9.0M111.1 9.0L105.2 7.2M128.6 3.6L128.6 7.2M128.6 7.2L122.8 9.0M122.8 9.0L116.9 7.2M140.3 3.6L140.3 7.2M140.3 7.2L134.5 9.0M134.5 9.0L128.6 7.2M152.0 3.6L152.0 7.2M152.0 7.2L146.1 9.0M146.1 9.0L140.3 7.2M-134.5 9.0L-134.5 12.6M-134.5 12.6L-140.3 14.4M-140.3 14.4L-146.1 12.6M-122.8 9.0L-122.8 12.6M-122.8 12.6L-128.6 14.4M-128.6 14.4L-134.5 12.6M-111.1 9.0L-111.1 12.6M-111.1 12.6L-116.9 14.4M-116.9 14.4L-122.8 12.6M-99.4 9.0L-99.4 12.6M-99.4 12.6L-105.2 14.4M-105.2 14.4L-111.1 12.6M-87.7 9.0L-87.7 12.6M-87.7 12.6L-93.5 14.4M-93.5 14.4L-99.4 12.6M-76.0 9.0L-76.0 12.6M-76.0 12.6L-81.8 14.4M-81.8 14.4L-87.7 12.6M-64.3 9.0L-64.3 12.6M-64.3 12.6L-70.1 14.4M-70.1 14.4L-76.0 12.6M-52.6 9.0L-52.6 12.6M-52.6 12.6L-58.5 14.4M-58.5 14.4L-64.3 12.6M-40.9 9.0L-40.9 12.6M-40.9 12.6L-46.8 14.4M-46.8 14.4L-52.6 12.6M-29.2 9.0L-29.2 12.6M-29.2 12.6L-35.1 14.4M-35.1 14.4L-40.9 12.6M-17.5 9.0L-17.5 12.6M-17.5 12.6L-23.4 14.4M-23.4 14.4L-29.2 12.6M-5.8 9.0L-5.8 12.6M-5.8 12.6L-11.7 14.4M-11.7 14.4L-17.5 12.6M5.8 9.0L5.8 12.6M5.8 12.6L0.0 14.4M0.0 14.4L-5.8 12.6M17.5 9.0L17.5 12.6M17.5 12.6L11.7 14.4M11.7 14.4L5.8 12.6M29.2 9.0L29.2 12.6M29.2 12.6L23.4 14.4M23.4 14.4L17.5 12.6M40.9 9.0L40.9 12.6M40.9 12.6L35.1 14.4M35.1 14.4L29.2 12.6M52.6 9.0L52.6 12.6M52.6 12.6L46.8 14.4M46.8 14.4L40.9 12.6M64.3 9.0L64.3 12.6M64.3 12.6L58.5 14.4M58.5 14.4L52.6 12.6M76.0 9.0L76.0 12.6M76.0 12.6L70.1 14.4M70.1 14.4L64.3 12.6M87.7 9.0L87.7 12.6M87.7 12.6L81.8 14.4M81.8 14.4L76.0 12.6M99.4 9.0L99.4 12.6M99.4 12.6L93.5 14.4M93.5 14.4L87.7 12.6M111.1 9.0L111.1 12.6M111.1 12.6L105.2 14.4M105.2 14.4L99.4 12.6M122.8 9.0L122.8 12.6M122.8 12.6L116.9 14.4M116.9 14.4L111.1 12.6M134.5 9.0L134.5 12.6M134.5 12.6L128.6 14.4M128.6 14.4L122.8 12.6M146.1 9.0L146.1 12.6M146.1 12.6L140.3 14.4M140.3 14.4L134.5 12.6M-128.6 14.4L-128.6 18.0M-128.6 18.0L-134.5 19.8M-134.5 19.8L-140.3 18.0M-116.9 14.4L-116.9 18.0M-116.9 18.0L-122.8 19.8M-122.8 19.8L-128.6 18.0M-105.2 14.4L-105.2 18.0M-105.2 18.0L-111.1 19.8M-111.1 19.8L-116.9 18.0M-93.5 14.4L-93.5 18.0M-93.5 18.0L-99.4 19.8M-99.4 19.8L-105.2 18.0M-81.8 14.4L-81.8 18.0M-81.8 18.0L-87.7 19.8M-87.7 19.8L-93.5 18.0M-70.1 14.4L-70.1 18.0M-70.1 18.0L-76.0 19.8M-76.0 19.8L-81.8 18.0M-58.5 14.4L-58.5 18.0M-58.5 18.0L-64.3 19.8M-64.3 19.8L-70.1 18.0M-46.8 14.4L-46.8 18.0M-46.8 18.0L-52.6 19.8M-52.6 19.8L-58.5 18.0M-35.1 14.4L-35.1 18.0M-35.1 18.0L-40.9 19.8M-40.9 19.8L-46.8 18.0M-23.4 14.4L-23.4 18.0M-23.4 18.0L-29.2 19.8M-29.2 19.8L-35.1 18.0M-11.7 14.4L-11.7 18.0M-11.7 18.0L-17.5 19.8M-17.5 19.8L-23.4 18.0M0.0 14.4L0.0 18.0M0.0 18.0L-5.8 19.8M-5.8 19.8L-11.7 18.0M11.7 14.4L11.7 18.0M11.7 18.0L5.8 19.8M5.8 19.8L-0.0 18.0M23.4 14.4L23.4 18.0M23.4 18.0L17.5 19.8M17.5 19.8L11.7 18.0M35.1 14.4L35.1 18.0M35.1 18.0L29.2 19.8M29.2 19.8L23.4 18.0M46.8 14.4L46.8 18.0M46.8 18.0L40.9 19.8M40.9 19.8L35.1 18.0M58.5 14.4L58.5 18.0M58.5 18.0L52.6 19.8M52.6 19.8L46.8 18.0M70.1 14.4L70.1 18.0M70.1 18.0L64.3 19.8M64.3 19.8L58.5 18.0M81.8 14.4L81.8 18.0M81.8 18.0L76.0 19.8M76.0 19.8L70.1 18.0M93.5 14.4L93.5 18.0M93.5 18.0L87.7 19.8M87.7 19.8L81.8 18.0M105.2 14.4L105.2 18.0M105.2 18.0L99.4 19.8M99.4 19.8L93.5 18.0M116.9 14.4L116.9 18.0M116.9 18.0L111.1 19.8M111.1 19.8L105.2 18.0M128.6 14.4L128.6 18.0M128.6 18.0L122.8 19.8M122.8 19.8L116.9 18.0M140.3 14.4L140.3 18.0M140.3 18.0L134.5 19.8M134.5 19.8L128.6 18.0M152.0 14.4L152.0 18.0M152.0 18.0L146.1 19.8M146.1 19.8L140.3 18.0M-134.5 19.8L-134.5 23.4M-134.5 23.4L-140.3 25.2M-140.3 25.2L-146.1 23.4M-122.8 19.8L-122.8 23.4M-122.8 23.4L-128.6 25.2M-128.6 25.2L-134.5 23.4M-111.1 19.8L-111.1 23.4M-111.1 23.4L-116.9 25.2M-116.9 25.2L-122.8 23.4M-99.4 19.8L-99.4 23.4M-99.4 23.4L-105.2 25.2M-105.2 25.2L-111.1 23.4M-87.7 19.8L-87.7 23.4M-87.7 23.4L-93.5 25.2M-93.5 25.2L-99.4 23.4M-76.0 19.8L-76.0 23.4M-76.0 23.4L-81.8 25.2M-81.8 25.2L-87.7 23.4M-64.3 19.8L-64.3 23.4M-64.3 23.4L-70.1 25.2M-70.1 25.2L-76.0 23.4M-52.6 19.8L-52.6 23.4M-52.6 23.4L-58.5 25.2M-58.5 25.2L-64.3 23.4M-40.9 19.8L-40.9 23.4M-40.9 23.4L-46.8 25.2M-46.8 25.2L-52.6 23.4M-29.2 19.8L-29.2 23.4M-29.2 23.4L-35.1 25.2M-35.1 25.2L-40.9 23.4M-17.5 19.8L-17.5 23.4M-17.5 23.4L-23.4 25.2M-23.4 25.2L-29.2 23.4M-5.8 19.8L-5.8 23.4M-5.8 23.4L-11.7 25.2M-11.7 25.2L-17.5 23.4M5.8 19.8L5.8 23.4M5.8 23.4L0.0 25.2M0.0 25.2L-5.8 23.4M17.5 19.8L17.5 23.4M17.5 23.4L11.7 25.2M11.7 25.2L5.8 23.4M29.2 19.8L29.2 23.4M29.2 23.4L23.4 25.2M23.4 25.2L17.5 23.4M40.9 19.8L40.9 23.4M40.9 23.4L35.1 25.2M35.1 25.2L29.2 23.4M52.6 19.8L52.6 23.4M52.6 23.4L46.8 25.2M46.8 25.2L40.9 23.4M64.3 19.8L64.3 23.4M64.3 23.4L58.5 25.2M58.5 25.2L52.6 23.4M76.0 19.8L76.0 23.4M76.0 23.4L70.1 25.2M70.1 25.2L64.3 23.4M87.7 19.8L87.7 23.4M87.7 23.4L81.8 25.2M81.8 25.2L76.0 23.4M99.4 19.8L99.4 23.4M99.4 23.4L93.5 25.2M93.5 25.2L87.7 23.4M111.1 19.8L111.1 23.4M111.1 23.4L105.2 25.2M105.2 25.2L99.4 23.4M122.8 19.8L122.8 23.4M122.8 23.4L116.9 25.2M116.9 25.2L111.1 23.4M134.5 19.8L134.5 23.4M134.5 23.4L128.6 25.2M128.6 25.2L122.8 23.4M146.1 19.8L146.1 23.4M146.1 23.4L140.3 25.2M140.3 25.2L134.5 23.4M-128.6 25.2L-128.6 28.8M-128.6 28.8L-134.5 30.6M-134.5 30.6L-140.3 28.8M-116.9 25.2L-116.9 28.8M-116.9 28.8L-122.8 30.6M-122.8 30.6L-128.6 28.8M-105.2 25.2L-105.2 28.8M-105.2 28.8L-111.1 30.6M-111.1 30.6L-116.9 28.8M-93.5 25.2L-93.5 28.8M-93.5 28.8L-99.4 30.6M-99.4 30.6L-105.2 28.8M-81.8 25.2L-81.8 28.8M-81.8 28.8L-87.7 30.6M-87.7 30.6L-93.5 28.8M-70.1 25.2L-70.1 28.8M-70.1 28.8L-76.0 30.6M-76.0 30.6L-81.8 28.8M-58.5 25.2L-58.5 28.8M-58.5 28.8L-64.3 30.6M-64.3 30.6L-70.1 28.8M-46.8 25.2L-46.8 28.8M-46.8 28.8L-52.6 30.6M-52.6 30.6L-58.5 28.8M-35.1 25.2L-35.1 28.8M-35.1 28.8L-40.9 30.6M-40.9 30.6L-46.8 28.8M-23.4 25.2L-23.4 28.8M-23.4 28.8L-29.2 30.6M-29.2 30.6L-35.1 28.8M-11.7 25.2L-11.7 28.8M-11.7 28.8L-17.5 30.6M-17.5 30.6L-23.4 28.8M0.0 25.2L0.0 28.8M0.0 28.8L-5.8 30.6M-5.8 30.6L-11.7 28.8M11.7 25.2L11.7 28.8M11.7 28.8L5.8 30.6M5.8 30.6L-0.0 28.8M23.4 25.2L23.4 28.8M23.4 28.8L17.5 30.6M17.5 30.6L11.7 28.8M35.1 25.2L35.1 28.8M35.1 28.8L29.2 30.6M29.2 30.6L23.4 28.8M46.8 25.2L46.8 28.8M46.8 28.8L40.9 30.6M40.9 30.6L35.1 28.8M58.5 25.2L58.5 28.8M58.5 28.8L52.6 30.6M52.6 30.6L46.8 28.8M70.1 25.2L70.1 28.8M70.1 28.8L64.3 30.6M64.3 30.6L58.5 28.8M81.8 25.2L81.8 28.8M81.8 28.8L76.0 30.6M76.0 30.6L70.1 28.8M93.5 25.2L93.5 28.8M93.5 28.8L87.7 30.6M87.7 30.6L81.8 28.8M105.2 25.2L105.2 28.8M105.2 28.8L99.4 30.6M99.4 30.6L93.5 28.8M116.9 25.2L116.9 28.8M116.9 28.8L111.1 30.6M111.1 30.6L105.2 28.8M128.6 25.2L128.6 28.8M128.6 28.8L122.8 30.6M122.8 30.6L116.9 28.8M140.3 25.2L140.3 28.8M140.3 28.8L134.5 30.6M134.5 30.6L128.6 28.8M152.0 25.2L152.0 28.8M152.0 28.8L146.1 30.6M146.1 30.6L140.3 28.8M-134.5 30.6L-134.5 34.2M-134.5 34.2L-140.3 36.0M-140.3 36.0L-146.1 34.2M-122.8 30.6L-122.8 34.2M-122.8 34.2L-128.6 36.0M-128.6 36.0L-134.5 34.2M-111.1 30.6L-111.1 34.2M-111.1 34.2L-116.9 36.0M-116.9 36.0L-122.8 34.2M-99.4 30.6L-99.4 34.2M-99.4 34.2L-105.2 36.0M-105.2 36.0L-111.1 34.2M-87.7 30.6L-87.7 34.2M-87.7 34.2L-93.5 36.0M-93.5 36.0L-99.4 34.2M-76.0 30.6L-76.0 34.2M-76.0 34.2L-81.8 36.0M-81.8 36.0L-87.7 34.2M-64.3 30.6L-64.3 34.2M-64.3 34.2L-70.1 36.0M-70.1 36.0L-76.0 34.2M-52.6 30.6L-52.6 34.2M-52.6 34.2L-58.5 36.0M-58.5 36.0L-64.3 34.2M-40.9 30.6L-40.9 34.2M-40.9 34.2L-46.8 36.0M-46.8 36.0L-52.6 34.2M-29.2 30.6L-29.2 34.2M-29.2 34.2L-35.1 36.0M-35.1 36.0L-40.9 34.2M-17.5 30.6L-17.5 34.2M-17.5 34.2L-23.4 36.0M-23.4 36.0L-29.2 34.2M-5.8 30.6L-5.8 34.2M-5.8 34.2L-11.7 36.0M-11.7 36.0L-17.5 34.2M5.8 30.6L5.8 34.2M5.8 34.2L0.0 36.0M0.0 36.0L-5.8 34.2M17.5 30.6L17.5 34.2M17.5 34.2L11.7 36.0M11.7 36.0L5.8 34.2M29.2 30.6L29.2 34.2M29.2 34.2L23.4 36.0M23.4 36.0L17.5 34.2M40.9 30.6L40.9 34.2M40.9 34.2L35.1 36.0M35.1 36.0L29.2 34.2M52.6 30.6L52.6 34.2M52.6 34.2L46.8 36.0M46.8 36.0L40.9 34.2M64.3 30.6L64.3 34.2M64.3 34.2L58.5 36.0M58.5 36.0L52.6 34.2M76.0 30.6L76.0 34.2M76.0 34.2L70.1 36.0M70.1 36.0L64.3 34.2M87.7 30.6L87.7 34.2M87.7 34.2L81.8 36.0M81.8 36.0L76.0 34.2M99.4 30.6L99.4 34.2M99.4 34.2L93.5 36.0M93.5 36.0L87.7 34.2M111.1 30.6L111.1 34.2M111.1 34.2L105.2 36.0M105.2 36.0L99.4 34.2M122.8 30.6L122.8 34.2M122.8 34.2L116.9 36.0M116.9 36.0L111.1 34.2M134.5 30.6L134.5 34.2M134.5 34.2L128.6 36.0M128.6 36.0L122.8 34.2M146.1 30.6L146.1 34.2M146.1 34.2L140.3 36.0M140.3 36.0L134.5 34.2M-128.6 36.0L-128.6 39.6M-128.6 39.6L-134.5 41.4M-134.5 41.4L-140.3 39.6M-116.9 36.0L-116.9 39.6M-116.9 39.6L-122.8 41.4M-122.8 41.4L-128.6 39.6M-105.2 36.0L-105.2 39.6M-105.2 39.6L-111.1 41.4M-111.1 41.4L-116.9 39.6M-93.5 36.0L-93.5 39.6M-93.5 39.6L-99.4 41.4M-99.4 41.4L-105.2 39.6M-81.8 36.0L-81.8 39.6M-81.8 39.6L-87.7 41.4M-87.7 41.4L-93.5 39.6M-70.1 36.0L-70.1 39.6M-70.1 39.6L-76.0 41.4M-76.0 41.4L-81.8 39.6M-58.5 36.0L-58.5 39.6M-58.5 39.6L-64.3 41.4M-64.3 41.4L-70.1 39.6M-46.8 36.0L-46.8 39.6M-46.8 39.6L-52.6 41.4M-52.6 41.4L-58.5 39.6M-35.1 36.0L-35.1 39.6M-35.1 39.6L-40.9 41.4M-40.9 41.4L-46.8 39.6M-23.4 36.0L-23.4 39.6M-23.4 39.6L-29.2 41.4M-29.2 41.4L-35.1 39.6M-11.7 36.0L-11.7 39.6M-11.7 39.6L-17.5 41.4M-17.5 41.4L-23.4 39.6M0.0 36.0L0.0 39.6M0.0 39.6L-5.8 41.4M-5.8 41.4L-11.7 39.6M11.7 36.0L11.7 39.6M11.7 39.6L5.8 41.4M5.8 41.4L-0.0 39.6M23.4 36.0L23.4 39.6M23.4 39.6L17.5 41.4M17.5 41.4L11.7 39.6M35.1 36.0L35.1 39.6M35.1 39.6L29.2 41.4M29.2 41.4L23.4 39.6M46.8 36.0L46.8 39.6M46.8 39.6L40.9 41.4M40.9 41.4L35.1 39.6M58.5 36.0L58.5 39.6M58.5 39.6L52.6 41.4M52.6 41.4L46.8 39.6M70.1 36.0L70.1 39.6M70.1 39.6L64.3 41.4M64.3 41.4L58.5 39.6M81.8 36.0L81.8 39.6M81.8 39.6L76.0 41.4M76.0 41.4L70.1 39.6M93.5 36.0L93.5 39.6M93.5 39.6L87.7 41.4M87.7 41.4L81.8 39.6M105.2 36.0L105.2 39.6M105.2 39.6L99.4 41.4M99.4 41.4L93.5 39.6M116.9 36.0L116.9 39.6M116.9 39.6L111.1 41.4M111.1 41.4L105.2 39.6M128.6 36.0L128.6 39.6M128.6 39.6L122.8 41.4M122.8 41.4L116.9 39.6M140.3 36.0L140.3 39.6M140.3 39.6L134.5 41.4M134.5 41.4L128.6 39.6M152.0 36.0L152.0 39.6M152.0 39.6L146.1 41.4M146.1 41.4L140.3 39.6M-134.5 41.4L-134.5 45.0M-134.5 45.0L-140.3 46.8M-140.3 46.8L-146.1 45.0M-122.8 41.4L-122.8 45.0M-122.8 45.0L-128.6 46.8M-128.6 46.8L-134.5 45.0M-111.1 41.4L-111.1 45.0M-111.1 45.0L-116.9 46.8M-116.9 46.8L-122.8 45.0M-99.4 41.4L-99.4 45.0M-99.4 45.0L-105.2 46.8M-105.2 46.8L-111.1 45.0M-87.7 41.4L-87.7 45.0M-87.7 45.0L-93.5 46.8M-93.5 46.8L-99.4 45.0M-76.0 41.4L-76.0 45.0M-76.0 45.0L-81.8 46.8M-81.8 46.8L-87.7 45.0M-64.3 41.4L-64.3 45.0M-64.3 45.0L-70.1 46.8M-70.1 46.8L-76.0 45.0M-52.6 41.4L-52.6 45.0M-52.6 45.0L-58.5 46.8M-58.5 46.8L-64.3 45.0M-40.9 41.4L-40.9 45.0M-40.9 45.0L-46.8 46.8M-46.8 46.8L-52.6 45.0M-29.2 41.4L-29.2 45.0M-29.2 45.0L-35.1 46.8M-35.1 46.8L-40.9 45.0M-17.5 41.4L-17.5 45.0M-17.5 45.0L-23.4 46.8M-23.4 46.8L-29.2 45.0M-5.8 41.4L-5.8 45.0M-5.8 45.0L-11.7 46.8M-11.7 46.8L-17.5 45.0M5.8 41.4L5.8 45.0M5.8 45.0L0.0 46.8M0.0 46.8L-5.8 45.0M17.5 41.4L17.5 45.0M17.5 45.0L11.7 46.8M11.7 46.8L5.8 45.0M29.2 41.4L29.2 45.0M29.2 45.0L23.4 46.8M23.4 46.8L17.5 45.0M40.9 41.4L40.9 45.0M40.9 45.0L35.1 46.8M35.1 46.8L29.2 45.0M52.6 41.4L52.6 45.0M52.6 45.0L46.8 46.8M46.8 46.8L40.9 45.0M64.3 41.4L64.3 45.0M64.3 45.0L58.5 46.8M58.5 46.8L52.6 45.0M76.0 41.4L76.0 45.0M76.0 45.0L70.1 46.8M70.1 46.8L64.3 45.0M87.7 41.4L87.7 45.0M87.7 45.0L81.8 46.8M81.8 46.8L76.0 45.0M99.4 41.4L99.4 45.0M99.4 45.0L93.5 46.8M93.5 46.8L87.7 45.0M111.1 41.4L111.1 45.0M111.1 45.0L105.2 46.8M105.2 46.8L99.4 45.0M122.8 41.4L122.8 45.0M122.8 45.0L116.9 46.8M116.9 46.8L111.1 45.0M134.5 41.4L134.5 45.0M134.5 45.0L128.6 46.8M128.6 46.8L122.8 45.0M146.1 41.4L146.1 45.0M146.1 45.0L140.3 46.8M140.3 46.8L134.5 45.0M-128.6 46.8L-128.6 50.4M-128.6 50.4L-134.5 52.2M-134.5 52.2L-140.3 50.4M-116.9 46.8L-116.9 50.4M-116.9 50.4L-122.8 52.2M-122.8 52.2L-128.6 50.4M-105.2 46.8L-105.2 50.4M-105.2 50.4L-111.1 52.2M-111.1 52.2L-116.9 50.4M-93.5 46.8L-93.5 50.4M-93.5 50.4L-99.4 52.2M-99.4 52.2L-105.2 50.4M-81.8 46.8L-81.8 50.4M-81.8 50.4L-87.7 52.2M-87.7 52.2L-93.5 50.4M-70.1 46.8L-70.1 50.4M-70.1 50.4L-76.0 52.2M-76.0 52.2L-81.8 50.4M-58.5 46.8L-58.5 50.4M-58.5 50.4L-64.3 52.2M-64.3 52.2L-70.1 50.4M-46.8 46.8L-46.8 50.4M-46.8 50.4L-52.6 52.2M-52.6 52.2L-58.5 50.4M-35.1 46.8L-35.1 50.4M-35.1 50.4L-40.9 52.2M-40.9 52.2L-46.8 50.4M-23.4 46.8L-23.4 50.4M-23.4 50.4L-29.2 52.2M-29.2 52.2L-35.1 50.4M-11.7 46.8L-11.7 50.4M-11.7 50.4L-17.5 52.2M-17.5 52.2L-23.4 50.4M0.0 46.8L0.0 50.4M0.0 50.4L-5.8 52.2M-5.8 52.2L-11.7 50.4M11.7 46.8L11.7 50.4M11.7 50.4L5.8 52.2M5.8 52.2L-0.0 50.4M23.4 46.8L23.4 50.4M23.4 50.4L17.5 52.2M17.5 52.2L11.7 50.4M35.1 46.8L35.1 50.4M35.1 50.4L29.2 52.2M29.2 52.2L23.4 50.4M46.8 46.8L46.8 50.4M46.8 50.4L40.9 52.2M40.9 52.2L35.1 50.4M58.5 46.8L58.5 50.4M58.5 50.4L52.6 52.2M52.6 52.2L46.8 50.4M70.1 46.8L70.1 50.4M70.1 50.4L64.3 52.2M64.3 52.2L58.5 50.4M81.8 46.8L81.8 50.4M81.8 50.4L76.0 52.2M76.0 52.2L70.1 50.4M93.5 46.8L93.5 50.4M93.5 50.4L87.7 52.2M87.7 52.2L81.8 50.4M105.2 46.8L105.2 50.4M105.2 50.4L99.4 52.2M99.4 52.2L93.5 50.4M116.9 46.8L116.9 50.4M116.9 50.4L111.1 52.2M111.1 52.2L105.2 50.4M128.6 46.8L128.6 50.4M128.6 50.4L122.8 52.2M122.8 52.2L116.9 50.4M140.3 46.8L140.3 50.4M140.3 50.4L134.5 52.2M134.5 52.2L128.6 50.4M152.0 46.8L152.0 50.4M152.0 50.4L146.1 52.2M146.1 52.2L140.3 50.4M-134.5 52.2L-134.5 55.8M-134.5 55.8L-140.3 57.6M-140.3 57.6L-146.1 55.8M-122.8 52.2L-122.8 55.8M-122.8 55.8L-128.6 57.6M-128.6 57.6L-134.5 55.8M-111.1 52.2L-111.1 55.8M-111.1 55.8L-116.9 57.6M-116.9 57.6L-122.8 55.8M-99.4 52.2L-99.4 55.8M-99.4 55.8L-105.2 57.6M-105.2 57.6L-111.1 55.8M-87.7 52.2L-87.7 55.8M-87.7 55.8L-93.5 57.6M-93.5 57.6L-99.4 55.8M-76.0 52.2L-76.0 55.8M-76.0 55.8L-81.8 57.6M-81.8 57.6L-87.7 55.8M-64.3 52.2L-64.3 55.8M-64.3 55.8L-70.1 57.6M-70.1 57.6L-76.0 55.8M-52.6 52.2L-52.6 55.8M-52.6 55.8L-58.5 57.6M-58.5 57.6L-64.3 55.8M-40.9 52.2L-40.9 55.8M-40.9 55.8L-46.8 57.6M-46.8 57.6L-52.6 55.8M-29.2 52.2L-29.2 55.8M-29.2 55.8L-35.1 57.6M-35.1 57.6L-40.9 55.8M-17.5 52.2L-17.5 55.8M-17.5 55.8L-23.4 57.6M-23.4 57.6L-29.2 55.8M-5.8 52.2L-5.8 55.8M-5.8 55.8L-11.7 57.6M-11.7 57.6L-17.5 55.8M5.8 52.2L5.8 55.8M5.8 55.8L0.0 57.6M0.0 57.6L-5.8 55.8M17.5 52.2L17.5 55.8M17.5 55.8L11.7 57.6M11.7 57.6L5.8 55.8M29.2 52.2L29.2 55.8M29.2 55.8L23.4 57.6M23.4 57.6L17.5 55.8M40.9 52.2L40.9 55.8M40.9 55.8L35.1 57.6M35.1 57.6L29.2 55.8M52.6 52.2L52.6 55.8M52.6 55.8L46.8 57.6M46.8 57.6L40.9 55.8M64.3 52.2L64.3 55.8M64.3 55.8L58.5 57.6M58.5 57.6L52.6 55.8M76.0 52.2L76.0 55.8M76.0 55.8L70.1 57.6M70.1 57.6L64.3 55.8M87.7 52.2L87.7 55.8M87.7 55.8L81.8 57.6M81.8 57.6L76.0 55.8M99.4 52.2L99.4 55.8M99.4 55.8L93.5 57.6M93.5 57.6L87.7 55.8M111.1 52.2L111.1 55.8M111.1 55.8L105.2 57.6M105.2 57.6L99.4 55.8M122.8 52.2L122.8 55.8M122.8 55.8L116.9 57.6M116.9 57.6L111.1 55.8M134.5 52.2L134.5 55.8M134.5 55.8L128.6 57.6M128.6 57.6L122.8 55.8M146.1 52.2L146.1 55.8M146.1 55.8L140.3 57.6M140.3 57.6L134.5 55.8M-128.6 57.6L-128.6 61.2M-128.6 61.2L-134.5 63.0M-134.5 63.0L-140.3 61.2M-116.9 57.6L-116.9 61.2M-116.9 61.2L-122.8 63.0M-122.8 63.0L-128.6 61.2M-105.2 57.6L-105.2 61.2M-105.2 61.2L-111.1 63.0M-111.1 63.0L-116.9 61.2M-93.5 57.6L-93.5 61.2M-93.5 61.2L-99.4 63.0M-99.4 63.0L-105.2 61.2M-81.8 57.6L-81.8 61.2M-81.8 61.2L-87.7 63.0M-87.7 63.0L-93.5 61.2M-70.1 57.6L-70.1 61.2M-70.1 61.2L-76.0 63.0M-76.0 63.0L-81.8 61.2M-58.5 57.6L-58.5 61.2M-58.5 61.2L-64.3 63.0M-64.3 63.0L-70.1 61.2M-46.8 57.6L-46.8 61.2M-46.8 61.2L-52.6 63.0M-52.6 63.0L-58.5 61.2M-35.1 57.6L-35.1 61.2M-35.1 61.2L-40.9 63.0M-40.9 63.0L-46.8 61.2M-23.4 57.6L-23.4 61.2M-23.4 61.2L-29.2 63.0M-29.2 63.0L-35.1 61.2M-11.7 57.6L-11.7 61.2M-11.7 61.2L-17.5 63.0M-17.5 63.0L-23.4 61.2M0.0 57.6L0.0 61.2M0.0 61.2L-5.8 63.0M-5.8 63.0L-11.7 61.2M11.7 57.6L11.7 61.2M11.7 61.2L5.8 63.0M5.8 63.0L-0.0 61.2M23.4 57.6L23.4 61.2M23.4 61.2L17.5 63.0M17.5 63.0L11.7 61.2M35.1 57.6L35.1 61.2M35.1 61.2L29.2 63.0M29.2 63.0L23.4 61.2M46.8 57.6L46.8 61.2M46.8 61.2L40.9 63.0M40.9 63.0L35.1 61.2M58.5 57.6L58.5 61.2M58.5 61.2L52.6 63.0M52.6 63.0L46.8 61.2M70.1 57.6L70.1 61.2M70.1 61.2L64.3 63.0M64.3 63.0L58.5 61.2M81.8 57.6L81.8 61.2M81.8 61.2L76.0 63.0M76.0 63.0L70.1 61.2M93.5 57.6L93.5 61.2M93.5 61.2L87.7 63.0M87.7 63.0L81.8 61.2M105.2 57.6L105.2 61.2M105.2 61.2L99.4 63.0M99.4 63.0L93.5 61.2M116.9 57.6L116.9 61.2M116.9 61.2L111.1 63.0M111.1 63.0L105.2 61.2M128.6 57.6L128.6 61.2M128.6 61.2L122.8 63.0M122.8 63.0L116.9 61.2M140.3 57.6L140.3 61.2M140.3 61.2L134.5 63.0M134.5 63.0L128.6 61.2M152.0 57.6L152.0 61.2M152.0 61.2L146.1 63.0M146.1 63.0L140.3 61.2M-134.5 63.0L-134.5 66.6M-134.5 66.6L-140.3 68.4M-140.3 68.4L-146.1 66.6M-122.8 63.0L-122.8 66.6M-122.8 66.6L-128.6 68.4M-128.6 68.4L-134.5 66.6M-111.1 63.0L-111.1 66.6M-111.1 66.6L-116.9 68.4M-116.9 68.4L-122.8 66.6M-99.4 63.0L-99.4 66.6M-99.4 66.6L-105.2 68.4M-105.2 68.4L-111.1 66.6M-87.7 63.0L-87.7 66.6M-87.7 66.6L-93.5 68.4M-93.5 68.4L-99.4 66.6M-76.0 63.0L-76.0 66.6M-76.0 66.6L-81.8 68.4M-81.8 68.4L-87.7 66.6M-64.3 63.0L-64.3 66.6M-64.3 66.6L-70.1 68.4M-70.1 68.4L-76.0 66.6M-52.6 63.0L-52.6 66.6M-52.6 66.6L-58.5 68.4M-58.5 68.4L-64.3 66.6M-40.9 63.0L-40.9 66.6M-40.9 66.6L-46.8 68.4M-46.8 68.4L-52.6 66.6M-29.2 63.0L-29.2 66.6M-29.2 66.6L-35.1 68.4M-35.1 68.4L-40.9 66.6M-17.5 63.0L-17.5 66.6M-17.5 66.6L-23.4 68.4M-23.4 68.4L-29.2 66.6M-5.8 63.0L-5.8 66.6M-5.8 66.6L-11.7 68.4M-11.7 68.4L-17.5 66.6M5.8 63.0L5.8 66.6M5.8 66.6L0.0 68.4M0.0 68.4L-5.8 66.6M17.5 63.0L17.5 66.6M17.5 66.6L11.7 68.4M11.7 68.4L5.8 66.6M29.2 63.0L29.2 66.6M29.2 66.6L23.4 68.4M23.4 68.4L17.5 66.6M40.9 63.0L40.9 66.6M40.9 66.6L35.1 68.4M35.1 68.4L29.2 66.6M52.6 63.0L52.6 66.6M52.6 66.6L46.8 68.4M46.8 68.4L40.9 66.6M64.3 63.0L64.3 66.6M64.3 66.6L58.5 68.4M58.5 68.4L52.6 66.6M76.0 63.0L76.0 66.6M76.0 66.6L70.1 68.4M70.1 68.4L64.3 66.6M87.7 63.0L87.7 66.6M87.7 66.6L81.8 68.4M81.8 68.4L76.0 66.6M99.4 63.0L99.4 66.6M99.4 66.6L93.5 68.4M93.5 68.4L87.7 66.6M111.1 63.0L111.1 66.6M111.1 66.6L105.2 68.4M105.2 68.4L99.4 66.6M122.8 63.0L122.8 66.6M122.8 66.6L116.9 68.4M116.9 68.4L111.1 66.6M134.5 63.0L134.5 66.6M134.5 66.6L128.6 68.4M128.6 68.4L122.8 66.6M146.1 63.0L146.1 66.6M146.1 66.6L140.3 68.4M140.3 68.4L134.5 66.6" stroke="#484848" stroke-width="1.95" fill="none" stroke-linecap="round"/>
</g></g>
<text x="267.9" y="237.1" text-anchor="middle" font-size="10.8" font-weight="bold" fill="#b5131f" stroke="#b5131f" stroke-width="0.3">Graphene</text>
<circle cx="185.3" cy="43.7" r="29" fill="#c6b3bb"/>
<circle cx="122.5" cy="93.3" r="26" fill="#c6b3bb"/>
<circle cx="234" cy="99" r="29.3" fill="#c6b3bb"/>
<circle cx="179.2" cy="148" r="28.1" fill="#c6b3bb"/>
<circle cx="177.8" cy="92" r="33.6" fill="#ffffff" stroke="#e2dee0" stroke-width="2.6"/>
<polygon points="184.0,58.0 181.5,63.0 179.7,62.1 180.5,67.5 185.3,64.9 183.5,64.0 186.0,59.0" fill="#d5d3d6" opacity="1"/>
<polygon points="142.8,86.6 152.9,88.0 152.6,90.0 157.5,87.5 153.5,83.8 153.2,85.8 143.2,84.4" fill="#d5d3d6" opacity="1"/>
<polygon points="214.9,92.7 204.4,93.7 204.2,91.6 200.0,95.2 204.8,97.9 204.6,95.9 215.1,94.9" fill="#d5d3d6" opacity="1"/>
<polygon points="178.6,125.0 178.6,119.0 180.7,119.0 177.5,114.5 174.3,119.0 176.4,119.0 176.4,125.0" fill="#d5d3d6" opacity="1"/>
<rect x="159.5" y="70" width="8.7" height="43" fill="#84c341"/>
<rect x="168.2" y="70" width="18.6" height="43" fill="#fdf1c4"/>
<rect x="186.8" y="70" width="8.4" height="43" fill="#9b9b9b"/>
<line x1="144" y1="90.6" x2="159.5" y2="90.6" stroke="#2a2a2a" stroke-width="1.3"/>
<line x1="195.2" y1="90.6" x2="210.5" y2="90.6" stroke="#2a2a2a" stroke-width="1.3"/>
<text x="163.8" y="92.4" text-anchor="middle" font-size="5" font-weight="bold" fill="#1d3a0c">+</text>
<text x="191" y="92" text-anchor="middle" font-size="5" font-weight="bold" fill="#333">-</text>
<path d="M174.6 82.8 c0.6 -0.8 1.7 -0.8 2.7 -0.3 s2.1 0.5 2.7 -0.3" stroke="#111" stroke-width="1.20" fill="none" stroke-linecap="round"/>
<path d="M174.6 99.4 c0.6 -0.8 1.7 -0.8 2.7 -0.3 s2.1 0.5 2.7 -0.3" stroke="#111" stroke-width="1.20" fill="none" stroke-linecap="round"/>
<text x="177.3" y="93" text-anchor="middle" font-size="6.6" font-weight="bold" fill="#111">Na<tspan font-size="3.8" dy="-2.5">+</tspan></text>
<text x="185.3" y="38.0" text-anchor="middle" font-size="7.8" font-weight="normal" fill="#3a3236" stroke="#3a3236" stroke-width="0.22" opacity="1">Building other</text>
<text x="185.3" y="47.3" text-anchor="middle" font-size="7.8" font-weight="normal" fill="#3a3236" stroke="#3a3236" stroke-width="0.22" opacity="1">carbon anodes</text>
<text x="120.8" y="87.6" text-anchor="middle" font-size="7.8" font-weight="normal" fill="#3a3236" stroke="#3a3236" stroke-width="0.22" opacity="1">Acting as</text>
<text x="120.8" y="96.9" text-anchor="middle" font-size="7.8" font-weight="normal" fill="#3a3236" stroke="#3a3236" stroke-width="0.22" opacity="1">anode</text>
<text x="120.8" y="106.2" text-anchor="middle" font-size="7.8" font-weight="normal" fill="#3a3236" stroke="#3a3236" stroke-width="0.22" opacity="1">material</text>
<text x="234.5" y="86.5" text-anchor="middle" font-size="7.8" font-weight="normal" fill="#3a3236" stroke="#3a3236" stroke-width="0.22" opacity="1">Hybridizing</text>
<text x="234.5" y="95.8" text-anchor="middle" font-size="7.8" font-weight="normal" fill="#3a3236" stroke="#3a3236" stroke-width="0.22" opacity="1">with</text>
<text x="234.5" y="105.1" text-anchor="middle" font-size="7.8" font-weight="normal" fill="#3a3236" stroke="#3a3236" stroke-width="0.22" opacity="1">noncarbon</text>
<text x="234.5" y="114.4" text-anchor="middle" font-size="7.8" font-weight="normal" fill="#3a3236" stroke="#3a3236" stroke-width="0.22" opacity="1">materials</text>
<text x="180.4" y="144.4" text-anchor="middle" font-size="7.8" font-weight="normal" fill="#3a3236" stroke="#3a3236" stroke-width="0.22" opacity="1">Shaping other</text>
<text x="180.4" y="153.7" text-anchor="middle" font-size="7.8" font-weight="normal" fill="#3a3236" stroke="#3a3236" stroke-width="0.22" opacity="1">components'</text>
<text x="180.4" y="163.0" text-anchor="middle" font-size="7.8" font-weight="normal" fill="#3a3236" stroke="#3a3236" stroke-width="0.22" opacity="1">structure</text>
<text x="104" y="135" text-anchor="middle" font-size="11.2" font-weight="bold" fill="#b5131f" stroke="#b5131f" stroke-width="0.3">Na-ion&#160; battery</text>
<circle cx="396.5" cy="34.5" r="28.5" fill="#a9d981"/>
<circle cx="324.5" cy="90.2" r="27.2" fill="#a9d981"/>
<circle cx="408.7" cy="123.5" r="28.7" fill="#a9d981"/>
<ellipse cx="377.8" cy="78.3" rx="36.8" ry="35.1" fill="#ffffff" stroke="#d6eac5" stroke-width="2.5"/>
<polygon points="394.5,46.3 391.3,51.1 389.6,50.0 389.8,55.5 395.0,53.6 393.3,52.4 396.5,47.7" fill="#b0d992" opacity="1"/>
<polygon points="341.9,86.1 351.9,84.8 352.1,86.9 356.2,83.1 351.3,80.4 351.6,82.5 341.7,83.7" fill="#b9de9e" opacity="1"/>
<polygon points="401.8,102.9 397.3,98.8 398.7,97.3 393.2,96.6 394.3,102.0 395.7,100.5 400.2,104.7" fill="#b0d992" opacity="1"/>
<rect x="358.3" y="58.7" width="8.4" height="36.8" fill="#b9b9b9"/>
<rect x="366.6" y="58.7" width="14.4" height="36.8" fill="#7a9fd8"/>
<rect x="380.9" y="59.4" width="12.8" height="3.0" fill="#7db5ea"/>
<rect x="380.9" y="64.7" width="12.8" height="3.0" fill="#7db5ea"/>
<rect x="380.9" y="70.0" width="12.8" height="3.0" fill="#7db5ea"/>
<rect x="380.9" y="75.3" width="12.8" height="3.0" fill="#7db5ea"/>
<rect x="380.9" y="80.6" width="12.8" height="3.0" fill="#7db5ea"/>
<rect x="380.9" y="85.9" width="12.8" height="3.0" fill="#7db5ea"/>
<rect x="380.9" y="91.2" width="12.8" height="3.0" fill="#7db5ea"/>
<line x1="345.3" y1="76.3" x2="358.3" y2="76.3" stroke="#2a2a2a" stroke-width="1.4"/>
<line x1="393.7" y1="76.3" x2="407" y2="76.3" stroke="#2a2a2a" stroke-width="1.4"/>
<text x="362.5" y="72.3" text-anchor="middle" font-size="4.8" font-weight="bold" fill="#333">Li</text>
<text x="374.3" y="77.8" text-anchor="middle" font-size="4.8" font-weight="bold" fill="#14224a">Li<tspan font-size="3" dy="-1.7">+</tspan></text>
<path d="M372.2 67.6 c0.5 -0.6 1.3 -0.6 2.0 -0.2 s1.5 0.4 2.0 -0.2" stroke="#14224a" stroke-width="1.10" fill="none" stroke-linecap="round"/>
<path d="M372.2 84.4 c0.5 -0.6 1.3 -0.6 2.0 -0.2 s1.5 0.4 2.0 -0.2" stroke="#14224a" stroke-width="1.10" fill="none" stroke-linecap="round"/>
<text x="399" y="69.2" text-anchor="middle" font-size="5.2" font-weight="bold" fill="#333">O<tspan font-size="3.2" dy="1.2">2</tspan></text>
<text x="396.7" y="19.6" text-anchor="middle" font-size="7.8" font-weight="normal" fill="#2c571b" stroke="#2c571b" stroke-width="0.22" opacity="1">Loading</text>
<text x="396.7" y="29.1" text-anchor="middle" font-size="7.8" font-weight="normal" fill="#2c571b" stroke="#2c571b" stroke-width="0.22" opacity="1">catalyst</text>
<text x="396.7" y="38.6" text-anchor="middle" font-size="7.8" font-weight="normal" fill="#2c571b" stroke="#2c571b" stroke-width="0.22" opacity="1">particles</text>
<text x="321.7" y="85.9" text-anchor="middle" font-size="7.8" font-weight="normal" fill="#2c571b" stroke="#2c571b" stroke-width="0.22" opacity="1">Building</text>
<text x="321.7" y="95.2" text-anchor="middle" font-size="7.8" font-weight="normal" fill="#2c571b" stroke="#2c571b" stroke-width="0.22" opacity="1">porous</text>
<text x="321.7" y="104.5" text-anchor="middle" font-size="7.8" font-weight="normal" fill="#2c571b" stroke="#2c571b" stroke-width="0.22" opacity="1">electrode</text>
<text x="410.0" y="118.5" text-anchor="middle" font-size="7.8" font-weight="normal" fill="#2c571b" stroke="#2c571b" stroke-width="0.22" opacity="1">Acting as</text>
<text x="410.0" y="128.0" text-anchor="middle" font-size="7.8" font-weight="normal" fill="#2c571b" stroke="#2c571b" stroke-width="0.22" opacity="1">non-metal</text>
<text x="410.0" y="137.5" text-anchor="middle" font-size="7.8" font-weight="normal" fill="#2c571b" stroke="#2c571b" stroke-width="0.22" opacity="1">catalyst</text>
<text x="423.6" y="80" font-size="11.2" font-weight="bold" fill="#b5131f" stroke="#b5131f" stroke-width="0.3">Li-O<tspan font-size="7" dy="2.4">2</tspan><tspan dy="-2.4"> battery</tspan></text>
<circle cx="419" cy="209" r="33.5" fill="#5b9bd5" stroke="#cfe2f6" stroke-width="1.3"/>
<circle cx="465.5" cy="189" r="32" fill="#5b9bd5" stroke="#cfe2f6" stroke-width="1.3"/>
<circle cx="519.5" cy="201.5" r="36.5" fill="#5b9bd5" stroke="#cfe2f6" stroke-width="1.3"/>
<circle cx="549" cy="232" r="37" fill="#5b9bd5" stroke="#cfe2f6" stroke-width="1.3"/>
<circle cx="551" cy="278" r="33.5" fill="#5b9bd5" stroke="#cfe2f6" stroke-width="1.3"/>
<circle cx="452.5" cy="316" r="36" fill="#5b9bd5" stroke="#cfe2f6" stroke-width="1.3"/>
<circle cx="415.5" cy="279.5" r="33.4" fill="#5b9bd5" stroke="#cfe2f6" stroke-width="1.3"/>
<circle cx="516.6" cy="315.6" r="33.7" fill="#5b9bd5" stroke="#cfe2f6" stroke-width="1.3"/>
<ellipse cx="475.6" cy="250.3" rx="43" ry="40.5" fill="#ffffff" filter="url(#b15)"/>
<polygon points="438.8,229.6 442.1,231.5 440.8,233.6 447.2,233.0 444.6,227.1 443.4,229.3 440.2,227.4" fill="#5b9bd5" opacity="1"/>
<polygon points="462.1,212.5 464.3,217.5 462.0,218.5 467.5,221.8 468.9,215.5 466.6,216.5 464.5,211.5" fill="#5b9bd5" opacity="1"/>
<polygon points="500.2,215.9 497.5,220.5 495.4,219.2 496.0,225.6 501.9,223.0 499.8,221.8 502.4,217.3" fill="#5b9bd5" opacity="1"/>
<polygon points="518.5,240.4 513.0,242.9 512.0,240.6 508.8,246.2 515.1,247.5 514.1,245.2 519.5,242.8" fill="#5b9bd5" opacity="1"/>
<polygon points="519.4,268.5 513.2,266.7 513.8,264.3 507.8,266.5 511.8,271.5 512.4,269.2 518.6,270.9" fill="#5b9bd5" opacity="1"/>
<polygon points="499.8,287.4 497.4,282.8 499.5,281.6 493.8,278.8 492.9,285.1 495.1,284.0 497.6,288.6" fill="#5b9bd5" opacity="1"/>
<polygon points="467.1,293.2 470.0,288.1 472.1,289.3 471.4,282.9 465.6,285.6 467.7,286.8 464.9,292.0" fill="#5b9bd5" opacity="1"/>
<polygon points="437.9,273.3 442.9,270.9 443.9,273.1 447.0,267.5 440.7,266.3 441.7,268.6 436.7,270.9" fill="#5b9bd5" opacity="1"/>
<rect x="453.1" y="225.4" width="10.8" height="52.3" fill="#f6a6ae"/>
<rect x="463.9" y="225.4" width="22.4" height="52.3" fill="#fbe9c2"/>
<rect x="486.3" y="225.4" width="10.4" height="52.3" fill="#a9a9a9"/>
<line x1="434" y1="250.8" x2="453.1" y2="250.8" stroke="#2a2a2a" stroke-width="1.7"/>
<line x1="496.7" y1="250.8" x2="516" y2="250.8" stroke="#2a2a2a" stroke-width="1.7"/>
<text x="459.2" y="253.6" text-anchor="middle" font-size="8" font-weight="bold" fill="#8c1018">+</text>
<text x="491.2" y="253" text-anchor="middle" font-size="7" font-weight="bold" fill="#3a3a3a">-</text>
<path d="M470.3 240.8 c1.1 -1.4 2.9 -1.4 4.5 -0.5 s3.4 0.9 4.5 -0.5" stroke="#111" stroke-width="1.60" fill="none" stroke-linecap="round"/>
<path d="M470.3 262.8 c1.1 -1.4 2.9 -1.4 4.5 -0.5 s3.4 0.9 4.5 -0.5" stroke="#111" stroke-width="1.60" fill="none" stroke-linecap="round"/>
<text x="475" y="253.5" text-anchor="middle" font-size="7" font-weight="bold" fill="#000">Li<tspan font-size="4" dy="-2.6">+</tspan></text>
<text x="415.0" y="198.1" text-anchor="middle" font-size="7.8" font-weight="normal" fill="#17407c" stroke="#17407c" stroke-width="0.22" opacity="1">Building</text>
<text x="415.0" y="207.5" text-anchor="middle" font-size="7.8" font-weight="normal" fill="#17407c" stroke="#17407c" stroke-width="0.22" opacity="1">other</text>
<text x="415.0" y="216.9" text-anchor="middle" font-size="7.8" font-weight="normal" fill="#17407c" stroke="#17407c" stroke-width="0.22" opacity="1">carbons</text>
<text x="466.0" y="175.0" text-anchor="middle" font-size="7.8" font-weight="normal" fill="#17407c" stroke="#17407c" stroke-width="0.22" opacity="1">Using as</text>
<text x="466.0" y="184.5" text-anchor="middle" font-size="7.8" font-weight="normal" fill="#17407c" stroke="#17407c" stroke-width="0.22" opacity="1">anode</text>
<text x="466.0" y="194.0" text-anchor="middle" font-size="7.8" font-weight="normal" fill="#17407c" stroke="#17407c" stroke-width="0.22" opacity="1">material</text>
<text x="517.0" y="176.0" text-anchor="middle" font-size="7.8" font-weight="normal" fill="#17407c" stroke="#17407c" stroke-width="0.22" opacity="1">Designing</text>
<text x="517.0" y="185.4" text-anchor="middle" font-size="7.8" font-weight="normal" fill="#17407c" stroke="#17407c" stroke-width="0.22" opacity="1">new type</text>
<text x="517.0" y="194.9" text-anchor="middle" font-size="7.8" font-weight="normal" fill="#17407c" stroke="#17407c" stroke-width="0.22" opacity="1">battery devices</text>
<text x="551.5" y="212.2" text-anchor="middle" font-size="7.8" font-weight="normal" fill="#17407c" stroke="#17407c" stroke-width="0.22" opacity="1">Building buffer</text>
<text x="551.5" y="221.8" text-anchor="middle" font-size="7.8" font-weight="normal" fill="#17407c" stroke="#17407c" stroke-width="0.22" opacity="1">structure&#160; for</text>
<text x="551.5" y="231.3" text-anchor="middle" font-size="7.8" font-weight="normal" fill="#17407c" stroke="#17407c" stroke-width="0.22" opacity="1">noncarbon anode</text>
<text x="551.5" y="240.9" text-anchor="middle" font-size="7.8" font-weight="normal" fill="#17407c" stroke="#17407c" stroke-width="0.22" opacity="1">and electrode</text>
<text x="551.8" y="266.4" text-anchor="middle" font-size="7.8" font-weight="normal" fill="#17407c" stroke="#17407c" stroke-width="0.22" opacity="1">Using as</text>
<text x="551.8" y="276.0" text-anchor="middle" font-size="7.8" font-weight="normal" fill="#17407c" stroke="#17407c" stroke-width="0.22" opacity="1">current collector</text>
<text x="551.8" y="285.6" text-anchor="middle" font-size="7.8" font-weight="normal" fill="#17407c" stroke="#17407c" stroke-width="0.22" opacity="1">coating</text>
<text x="517.3" y="304.9" text-anchor="middle" font-size="7.8" font-weight="normal" fill="#17407c" stroke="#17407c" stroke-width="0.22" opacity="1">Hybridizing with</text>
<text x="517.3" y="314.5" text-anchor="middle" font-size="7.8" font-weight="normal" fill="#17407c" stroke="#17407c" stroke-width="0.22" opacity="1">noncarbons and</text>
<text x="517.3" y="324.1" text-anchor="middle" font-size="7.8" font-weight="normal" fill="#17407c" stroke="#17407c" stroke-width="0.22" opacity="1">shaping their</text>
<text x="517.3" y="333.7" text-anchor="middle" font-size="7.8" font-weight="normal" fill="#17407c" stroke="#17407c" stroke-width="0.22" opacity="1">structure</text>
<text x="452.0" y="320.3" text-anchor="middle" font-size="7.8" font-weight="normal" fill="#17407c" stroke="#17407c" stroke-width="0.22" opacity="1">Building flexible</text>
<text x="452.0" y="329.8" text-anchor="middle" font-size="7.8" font-weight="normal" fill="#17407c" stroke="#17407c" stroke-width="0.22" opacity="1">electrode and</text>
<text x="452.0" y="339.3" text-anchor="middle" font-size="7.8" font-weight="normal" fill="#17407c" stroke="#17407c" stroke-width="0.22" opacity="1">current collector</text>
<text x="414.3" y="275.7" text-anchor="middle" font-size="7.8" font-weight="normal" fill="#17407c" stroke="#17407c" stroke-width="0.22" opacity="1">Acting as</text>
<text x="414.3" y="285.2" text-anchor="middle" font-size="7.8" font-weight="normal" fill="#17407c" stroke="#17407c" stroke-width="0.22" opacity="1">conductive</text>
<text x="414.3" y="294.7" text-anchor="middle" font-size="7.8" font-weight="normal" fill="#17407c" stroke="#17407c" stroke-width="0.22" opacity="1">additives</text>
<text x="470" y="367.4" text-anchor="middle" font-size="11.2" font-weight="bold" fill="#b5131f" stroke="#b5131f" stroke-width="0.3">Li-ion battery</text>
<circle cx="62" cy="246" r="32" fill="#b8acee" stroke="#d2cbf5" stroke-width="1.1"/>
<circle cx="128" cy="238.5" r="33" fill="#b8acee" stroke="#d2cbf5" stroke-width="1.1"/>
<circle cx="163.8" cy="287" r="31.5" fill="#b8acee" stroke="#d2cbf5" stroke-width="1.1"/>
<circle cx="112.9" cy="335.5" r="32" fill="#b8acee" stroke="#d2cbf5" stroke-width="1.1"/>
<circle cx="58" cy="306" r="32" fill="#b8acee" stroke="#d2cbf5" stroke-width="1.1"/>
<ellipse cx="104.7" cy="281.7" rx="36" ry="34" fill="#ffffff" filter="url(#b2)"/>
<ellipse cx="104.7" cy="281.7" rx="33" ry="31" fill="#ffffff" filter="url(#b15)"/>
<polygon points="79.3,256.3 82.1,259.3 80.5,260.9 86.4,261.8 85.6,255.8 84.0,257.4 81.1,254.5" fill="#b9afea" opacity="1"/>
<polygon points="120.9,247.6 118.5,251.6 116.6,250.4 117.2,256.4 122.7,254.1 120.8,252.9 123.1,249.0" fill="#b9afea" opacity="1"/>
<polygon points="138.3,280.8 133.1,281.4 132.8,279.2 128.5,283.3 133.7,286.3 133.4,284.0 138.7,283.4" fill="#b9afea" opacity="1"/>
<polygon points="110.9,312.3 110.5,308.6 112.7,308.3 108.6,304.0 105.6,309.2 107.9,308.9 108.3,312.7" fill="#b9afea" opacity="1"/>
<polygon points="77.9,295.1 81.3,293.1 82.4,295.1 84.8,289.6 78.8,288.9 80.0,290.9 76.5,292.9" fill="#b9afea" opacity="1"/>
<rect x="86.2" y="257.3" width="4.6" height="44.8" fill="#f6b730"/>
<rect x="90.6" y="257.3" width="5" height="44.8" fill="#ef8b4c"/>
<rect x="112.7" y="257.3" width="5.6" height="44.8" fill="#ef8b4c"/>
<rect x="118.2" y="257.3" width="4.8" height="44.8" fill="#f6b730"/>
<line x1="69.7" y1="281.2" x2="86.2" y2="281.2" stroke="#2a2a2a" stroke-width="1.3"/>
<line x1="123" y1="281.2" x2="139.3" y2="281.2" stroke="#2a2a2a" stroke-width="1.3"/>
<line x1="104.5" y1="259" x2="104.5" y2="301" stroke="#e8d84a" stroke-width="0.8" stroke-dasharray="1.2,1.2"/>
<rect x="91.3" y="262.85" width="2.8" height="0.9" fill="#d2232a"/>
<circle cx="99" cy="263.3" r="2.4" fill="#c3bcf1"/>
<path d="M96.9 263.3h4.2M99 261.2v4.2" stroke="#3d3392" stroke-width="1.4"/>
<circle cx="109.8" cy="263.3" r="2.4" fill="#bdb5ef"/>
<path d="M108 263.3h3.6" stroke="#4a3fa5" stroke-width="1.2"/>
<path d="M114.3 263.3h4.6M116.6 261.0v4.6" stroke="#7a1518" stroke-width="1.2"/>
<rect x="91.3" y="270.45" width="2.8" height="0.9" fill="#d2232a"/>
<circle cx="99" cy="270.9" r="2.4" fill="#c3bcf1"/>
<path d="M96.9 270.9h4.2M99 268.8v4.2" stroke="#3d3392" stroke-width="1.4"/>
<circle cx="109.8" cy="270.9" r="2.4" fill="#bdb5ef"/>
<path d="M108 270.9h3.6" stroke="#4a3fa5" stroke-width="1.2"/>
<path d="M114.3 270.9h4.6M116.6 268.6v4.6" stroke="#7a1518" stroke-width="1.2"/>
<rect x="91.3" y="279.35" width="2.8" height="0.9" fill="#d2232a"/>
<circle cx="99" cy="279.8" r="2.4" fill="#c3bcf1"/>
<path d="M96.9 279.8h4.2M99 277.7v4.2" stroke="#3d3392" stroke-width="1.4"/>
<circle cx="109.8" cy="279.8" r="2.4" fill="#bdb5ef"/>
<path d="M108 279.8h3.6" stroke="#4a3fa5" stroke-width="1.2"/>
<path d="M114.3 279.8h4.6M116.6 277.5v4.6" stroke="#7a1518" stroke-width="1.2"/>
<rect x="91.3" y="288.05" width="2.8" height="0.9" fill="#d2232a"/>
<circle cx="99" cy="288.5" r="2.4" fill="#c3bcf1"/>
<path d="M96.9 288.5h4.2M99 286.4v4.2" stroke="#3d3392" stroke-width="1.4"/>
<circle cx="109.8" cy="288.5" r="2.4" fill="#bdb5ef"/>
<path d="M108 288.5h3.6" stroke="#4a3fa5" stroke-width="1.2"/>
<path d="M114.3 288.5h4.6M116.6 286.2v4.6" stroke="#7a1518" stroke-width="1.2"/>
<rect x="91.3" y="295.45" width="2.8" height="0.9" fill="#d2232a"/>
<circle cx="99" cy="295.9" r="2.4" fill="#c3bcf1"/>
<path d="M96.9 295.9h4.2M99 293.8v4.2" stroke="#3d3392" stroke-width="1.4"/>
<circle cx="109.8" cy="295.9" r="2.4" fill="#bdb5ef"/>
<path d="M108 295.9h3.6" stroke="#4a3fa5" stroke-width="1.2"/>
<path d="M114.3 295.9h4.6M116.6 293.6v4.6" stroke="#7a1518" stroke-width="1.2"/>
<text x="62.5" y="234.9" text-anchor="middle" font-size="7.8" font-weight="normal" fill="#352b70" stroke="#352b70" stroke-width="0.22" opacity="1">Using as</text>
<text x="62.5" y="244.2" text-anchor="middle" font-size="7.8" font-weight="normal" fill="#352b70" stroke="#352b70" stroke-width="0.22" opacity="1">carbon</text>
<text x="62.5" y="253.5" text-anchor="middle" font-size="7.8" font-weight="normal" fill="#352b70" stroke="#352b70" stroke-width="0.22" opacity="1">electrode</text>
<text x="128.0" y="225.6" text-anchor="middle" font-size="7.8" font-weight="normal" fill="#352b70" stroke="#352b70" stroke-width="0.22" opacity="1">Building flexible</text>
<text x="128.0" y="234.9" text-anchor="middle" font-size="7.8" font-weight="normal" fill="#352b70" stroke="#352b70" stroke-width="0.22" opacity="1">electrode</text>
<text x="167.3" y="269.6" text-anchor="middle" font-size="7.8" font-weight="normal" fill="#352b70" stroke="#352b70" stroke-width="0.22" opacity="1">Building</text>
<text x="167.3" y="279.3" text-anchor="middle" font-size="7.8" font-weight="normal" fill="#352b70" stroke="#352b70" stroke-width="0.22" opacity="1">other carbons</text>
<text x="167.3" y="289.0" text-anchor="middle" font-size="7.8" font-weight="normal" fill="#352b70" stroke="#352b70" stroke-width="0.22" opacity="1">and high</text>
<text x="167.3" y="298.7" text-anchor="middle" font-size="7.8" font-weight="normal" fill="#352b70" stroke="#352b70" stroke-width="0.22" opacity="1">volumetric</text>
<text x="167.3" y="308.4" text-anchor="middle" font-size="7.8" font-weight="normal" fill="#352b70" stroke="#352b70" stroke-width="0.22" opacity="1">electrode</text>
<text x="113.3" y="328.0" text-anchor="middle" font-size="7.8" font-weight="normal" fill="#352b70" stroke="#352b70" stroke-width="0.22" opacity="1">Hybridizing</text>
<text x="113.3" y="337.3" text-anchor="middle" font-size="7.8" font-weight="normal" fill="#352b70" stroke="#352b70" stroke-width="0.22" opacity="1">with</text>
<text x="113.3" y="346.6" text-anchor="middle" font-size="7.8" font-weight="normal" fill="#352b70" stroke="#352b70" stroke-width="0.22" opacity="1">noncarbon</text>
<text x="113.3" y="355.9" text-anchor="middle" font-size="7.8" font-weight="normal" fill="#352b70" stroke="#352b70" stroke-width="0.22" opacity="1">materials</text>
<text x="55.5" y="296.8" text-anchor="middle" font-size="7.8" font-weight="normal" fill="#352b70" stroke="#352b70" stroke-width="0.22" opacity="1">Shaping the</text>
<text x="55.5" y="306.1" text-anchor="middle" font-size="7.8" font-weight="normal" fill="#352b70" stroke="#352b70" stroke-width="0.22" opacity="1">structure of</text>
<text x="55.5" y="315.4" text-anchor="middle" font-size="7.8" font-weight="normal" fill="#352b70" stroke="#352b70" stroke-width="0.22" opacity="1">other</text>
<text x="55.5" y="324.7" text-anchor="middle" font-size="7.8" font-weight="normal" fill="#352b70" stroke="#352b70" stroke-width="0.22" opacity="1">carbons</text>
<text x="107.5" y="385" text-anchor="middle" font-size="11" font-weight="bold" fill="#b5131f" stroke="#b5131f" stroke-width="0.3">Supercapacitor</text>
<circle cx="250" cy="432.5" r="33" fill="#f7ca5c" stroke="#fae3a6" stroke-width="1.1"/>
<circle cx="223.6" cy="380.2" r="33.8" fill="#f7ca5c" stroke="#fae3a6" stroke-width="1.1"/>
<circle cx="253.5" cy="335" r="36.5" fill="#f7ca5c" stroke="#fae3a6" stroke-width="1.1"/>
<circle cx="324" cy="319" r="36" fill="#f7ca5c" stroke="#fae3a6" stroke-width="1.1"/>
<circle cx="364" cy="356.5" r="35" fill="#f7ca5c" stroke="#fae3a6" stroke-width="1.1"/>
<circle cx="361" cy="413" r="31" fill="#f7ca5c" stroke="#fae3a6" stroke-width="1.1"/>
<circle cx="311.5" cy="442" r="33" fill="#f7ca5c" stroke="#fae3a6" stroke-width="1.1"/>
<ellipse cx="297.6" cy="372.2" rx="45" ry="40" fill="#fdf1c4" filter="url(#b2)"/>
<ellipse cx="297.6" cy="372.2" rx="42.5" ry="37.5" fill="#fffdf4" filter="url(#b15)"/>
<polygon points="268.2,344.8 271.6,347.5 270.2,349.3 276.1,349.5 274.4,343.8 273.0,345.6 269.6,343.0" fill="#f6d385" opacity="1"/>
<polygon points="311.8,335.2 309.7,338.7 307.7,337.5 308.2,343.4 313.6,341.1 311.7,339.9 313.8,336.4" fill="#f6d385" opacity="1"/>
<polygon points="335.7,355.9 328.6,359.4 327.6,357.4 324.8,362.6 330.6,363.6 329.6,361.6 336.7,358.1" fill="#f6d385" opacity="1"/>
<polygon points="334.3,393.1 329.4,389.6 330.7,387.8 324.8,387.8 326.7,393.4 328.0,391.6 332.9,395.1" fill="#f6d385" opacity="1"/>
<polygon points="305.7,413.1 304.6,408.6 306.8,408.1 302.3,404.2 300.1,409.7 302.2,409.1 303.3,413.7" fill="#f6d385" opacity="1"/>
<polygon points="270.8,404.9 274.7,399.9 276.5,401.3 276.7,395.4 271.0,397.1 272.8,398.5 269.0,403.5" fill="#f6d385" opacity="1"/>
<polygon points="254.0,379.1 257.9,377.6 258.7,379.7 261.9,374.7 256.2,373.3 257.0,375.4 253.2,376.9" fill="#f6d385" opacity="1"/>
<rect x="277.8" y="346.4" width="9.6" height="47.6" fill="#b4b4ba"/>
<rect x="287.3" y="346.4" width="20" height="47.6" fill="#fdf48e"/>
<rect x="307.2" y="346.4" width="14.9" height="47.6" fill="#fab915"/>
<line x1="261" y1="369.3" x2="277.8" y2="369.3" stroke="#2a2a2a" stroke-width="1.5"/>
<line x1="322.1" y1="369.3" x2="339.5" y2="369.3" stroke="#2a2a2a" stroke-width="1.5"/>
<text x="282.8" y="364.3" text-anchor="middle" font-size="6.3" font-weight="bold" fill="#222">Li</text>
<text x="314.2" y="365" text-anchor="middle" font-size="6.3" font-weight="bold" fill="#5a1a10">S</text>
<text x="298" y="370.8" text-anchor="middle" font-size="6.3" font-weight="bold" fill="#222">Li<tspan font-size="3.6" dy="-2.4">+</tspan></text>
<path d="M293.2 358.3 c1.1 -1.4 2.9 -1.4 4.6 -0.5 s3.5 0.9 4.6 -0.5" stroke="#111" stroke-width="1.55" fill="none" stroke-linecap="round"/>
<path d="M293.6 379.5 c1.1 -1.4 2.9 -1.4 4.6 -0.5 s3.5 0.9 4.6 -0.5" stroke="#111" stroke-width="1.55" fill="none" stroke-linecap="round"/>
<text x="251.5" y="316.1" text-anchor="middle" font-size="7.8" font-weight="normal" fill="#5e4410" stroke="#5e4410" stroke-width="0.22" opacity="1">Acting as 2D</text>
<text x="251.5" y="325.4" text-anchor="middle" font-size="7.8" font-weight="normal" fill="#5e4410" stroke="#5e4410" stroke-width="0.22" opacity="1">conducting</text>
<text x="251.5" y="334.7" text-anchor="middle" font-size="7.8" font-weight="normal" fill="#5e4410" stroke="#5e4410" stroke-width="0.22" opacity="1">carbon</text>
<text x="251.5" y="344.0" text-anchor="middle" font-size="7.8" font-weight="normal" fill="#5e4410" stroke="#5e4410" stroke-width="0.22" opacity="1">framework</text>
<text x="322.5" y="301.4" text-anchor="middle" font-size="7.8" font-weight="normal" fill="#5e4410" stroke="#5e4410" stroke-width="0.22" opacity="1">Confining the</text>
<text x="322.5" y="310.7" text-anchor="middle" font-size="7.8" font-weight="normal" fill="#5e4410" stroke="#5e4410" stroke-width="0.22" opacity="1">sulfur after</text>
<text x="322.5" y="320.0" text-anchor="middle" font-size="7.8" font-weight="normal" fill="#5e4410" stroke="#5e4410" stroke-width="0.22" opacity="1">functionalization</text>
<text x="363.5" y="343.5" text-anchor="middle" font-size="7.8" font-weight="normal" fill="#5e4410" stroke="#5e4410" stroke-width="0.22" opacity="1">Building various</text>
<text x="363.5" y="352.8" text-anchor="middle" font-size="7.8" font-weight="normal" fill="#5e4410" stroke="#5e4410" stroke-width="0.22" opacity="1">confining and</text>
<text x="363.5" y="362.1" text-anchor="middle" font-size="7.8" font-weight="normal" fill="#5e4410" stroke="#5e4410" stroke-width="0.22" opacity="1">buffering</text>
<text x="363.5" y="371.4" text-anchor="middle" font-size="7.8" font-weight="normal" fill="#5e4410" stroke="#5e4410" stroke-width="0.22" opacity="1">structure</text>
<text x="358.5" y="402.8" text-anchor="middle" font-size="7.8" font-weight="normal" fill="#5e4410" stroke="#5e4410" stroke-width="0.22" opacity="1">Building flexible</text>
<text x="358.5" y="412.1" text-anchor="middle" font-size="7.8" font-weight="normal" fill="#5e4410" stroke="#5e4410" stroke-width="0.22" opacity="1">electrode and</text>
<text x="358.5" y="421.4" text-anchor="middle" font-size="7.8" font-weight="normal" fill="#5e4410" stroke="#5e4410" stroke-width="0.22" opacity="1">current</text>
<text x="358.5" y="430.7" text-anchor="middle" font-size="7.8" font-weight="normal" fill="#5e4410" stroke="#5e4410" stroke-width="0.22" opacity="1">collector</text>
<text x="309.0" y="436.9" text-anchor="middle" font-size="7.8" font-weight="normal" fill="#5e4410" stroke="#5e4410" stroke-width="0.22" opacity="1">Protecting</text>
<text x="309.0" y="446.2" text-anchor="middle" font-size="7.8" font-weight="normal" fill="#5e4410" stroke="#5e4410" stroke-width="0.22" opacity="1">the Li</text>
<text x="309.0" y="455.5" text-anchor="middle" font-size="7.8" font-weight="normal" fill="#5e4410" stroke="#5e4410" stroke-width="0.22" opacity="1">anode</text>
<text x="250.5" y="427.4" text-anchor="middle" font-size="7.8" font-weight="normal" fill="#5e4410" stroke="#5e4410" stroke-width="0.22" opacity="1">Building high</text>
<text x="250.5" y="436.7" text-anchor="middle" font-size="7.8" font-weight="normal" fill="#5e4410" stroke="#5e4410" stroke-width="0.22" opacity="1">volumetric</text>
<text x="250.5" y="446.0" text-anchor="middle" font-size="7.8" font-weight="normal" fill="#5e4410" stroke="#5e4410" stroke-width="0.22" opacity="1">electrode</text>
<text x="222.0" y="378.1" text-anchor="middle" font-size="7.8" font-weight="normal" fill="#5e4410" stroke="#5e4410" stroke-width="0.22" opacity="1">Acting as</text>
<text x="222.0" y="387.4" text-anchor="middle" font-size="7.8" font-weight="normal" fill="#5e4410" stroke="#5e4410" stroke-width="0.22" opacity="1">barrier film</text>
<text x="297" y="491.8" text-anchor="middle" font-size="11.2" font-weight="bold" fill="#b5131f" stroke="#b5131f" stroke-width="0.3">Li-S battery</text>
</g>
<text x="498.6" y="493.8" text-anchor="middle" font-size="19.3" fill="#b2dcae">www.cntronics.com</text>
</svg></body></html>
